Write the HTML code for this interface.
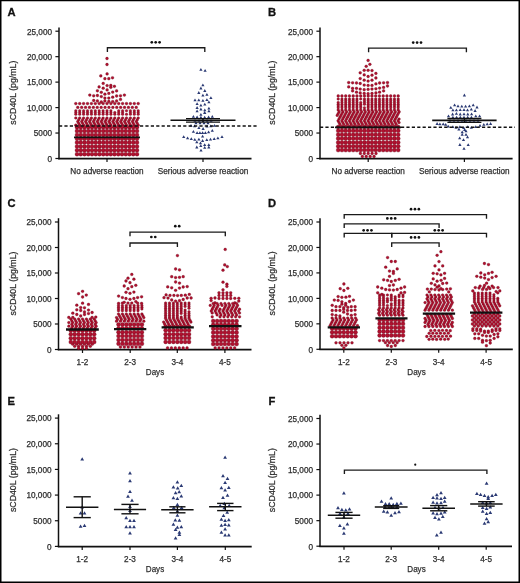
<!DOCTYPE html>
<html><head><meta charset="utf-8"><style>html,body{margin:0;padding:0;background:#fff;}svg{display:block;font-family:"Liberation Sans",sans-serif;will-change:transform;}</style></head>
<body><svg width="520" height="583" viewBox="0 0 520 583" font-family="Liberation Sans, sans-serif"><rect x="0" y="0" width="520" height="1.25" fill="#000"/><rect x="0" y="0" width="1.5" height="583" fill="#000"/><rect x="518.5" y="0" width="1.5" height="583" fill="#000"/><rect x="0" y="581.5" width="520" height="1.5" fill="#000"/>
<text x="7.5" y="15.8" font-size="11.2" font-weight="bold" fill="#111" stroke="#111" stroke-width="0.3">A</text>
<line x1="59" y1="27.4" x2="59" y2="159.2" stroke="#111" stroke-width="1.5"/>
<line x1="58.25" y1="158.65" x2="251.5" y2="158.65" stroke="#111" stroke-width="1.75"/>
<line x1="55.4" y1="158.5" x2="59" y2="158.5" stroke="#111" stroke-width="1.2"/>
<text x="52" y="161.8" text-anchor="end" font-size="8.2" fill="#2e2e2e" stroke="#2e2e2e" stroke-width="0.25">0</text>
<line x1="55.4" y1="133.04" x2="59" y2="133.04" stroke="#111" stroke-width="1.2"/>
<text x="52" y="136.34" text-anchor="end" font-size="8.2" fill="#2e2e2e" stroke="#2e2e2e" stroke-width="0.25">5000</text>
<line x1="55.4" y1="107.58" x2="59" y2="107.58" stroke="#111" stroke-width="1.2"/>
<text x="52" y="110.88" text-anchor="end" font-size="8.2" fill="#2e2e2e" stroke="#2e2e2e" stroke-width="0.25">10,000</text>
<line x1="55.4" y1="82.12" x2="59" y2="82.12" stroke="#111" stroke-width="1.2"/>
<text x="52" y="85.42" text-anchor="end" font-size="8.2" fill="#2e2e2e" stroke="#2e2e2e" stroke-width="0.25">15,000</text>
<line x1="55.4" y1="56.66" x2="59" y2="56.66" stroke="#111" stroke-width="1.2"/>
<text x="52" y="59.96" text-anchor="end" font-size="8.2" fill="#2e2e2e" stroke="#2e2e2e" stroke-width="0.25">20,000</text>
<line x1="55.4" y1="31.2" x2="59" y2="31.2" stroke="#111" stroke-width="1.2"/>
<text x="52" y="34.5" text-anchor="end" font-size="8.2" fill="#2e2e2e" stroke="#2e2e2e" stroke-width="0.25">25,000</text>
<line x1="107" y1="158.5" x2="107" y2="162" stroke="#111" stroke-width="1.2"/>
<line x1="203" y1="158.5" x2="203" y2="162" stroke="#111" stroke-width="1.2"/>
<text transform="translate(16.2,92.65) rotate(-90)" text-anchor="middle" font-size="9.5" textLength="64" lengthAdjust="spacingAndGlyphs" fill="#2e2e2e" stroke="#2e2e2e" stroke-width="0.25">sCD40L (pg/mL)</text>
<text x="107" y="174.3" text-anchor="middle" font-size="8.2" fill="#2e2e2e" stroke="#2e2e2e" stroke-width="0.25">No adverse reaction</text>
<text x="203" y="174.3" text-anchor="middle" font-size="8.2" fill="#2e2e2e" stroke="#2e2e2e" stroke-width="0.25">Serious adverse reaction</text>
<g fill="#b0112f" stroke="#600818" stroke-width="0.3"><circle cx="107" cy="58.5" r="1.4"/><circle cx="107" cy="64.5" r="1.4"/><circle cx="107.1" cy="73.9" r="1.4"/><circle cx="100.8" cy="75.9" r="1.4"/><circle cx="104.9" cy="78.7" r="1.4"/><circle cx="108.8" cy="78.7" r="1.4"/><circle cx="112.5" cy="77.8" r="1.4"/><circle cx="103.2" cy="83.4" r="1.4"/><circle cx="107.1" cy="85.6" r="1.4"/><circle cx="110.8" cy="85.4" r="1.4"/><circle cx="110.8" cy="87.3" r="1.4"/><circle cx="114.4" cy="86.3" r="1.4"/><circle cx="99.1" cy="86.9" r="1.4"/><circle cx="103.2" cy="88.2" r="1.4"/><circle cx="107.1" cy="89.9" r="1.4"/><circle cx="97.4" cy="90.8" r="1.4"/><circle cx="101.3" cy="92.3" r="1.4"/><circle cx="112.7" cy="92.1" r="1.4"/><circle cx="116.6" cy="90.9" r="1.4"/><circle cx="108.8" cy="93.4" r="1.4"/><circle cx="104.9" cy="94.2" r="1.4"/><circle cx="89.8" cy="95.1" r="1.4"/><circle cx="93.7" cy="95.8" r="1.4"/><circle cx="97.4" cy="95.5" r="1.4"/><circle cx="101.3" cy="96.6" r="1.4"/><circle cx="104.9" cy="98.1" r="1.4"/><circle cx="108.8" cy="98.1" r="1.4"/><circle cx="112.7" cy="97.2" r="1.4"/><circle cx="116.6" cy="96" r="1.4"/><circle cx="120.5" cy="95.8" r="1.4"/><circle cx="124.4" cy="95.1" r="1.4"/><circle cx="93.7" cy="100.5" r="1.4"/><circle cx="97.4" cy="101" r="1.4"/><circle cx="101.3" cy="102" r="1.4"/><circle cx="104.9" cy="101" r="1.4"/><circle cx="108.8" cy="101.5" r="1.4"/><circle cx="112.7" cy="101.6" r="1.4"/><circle cx="116.6" cy="101" r="1.4"/><circle cx="120.5" cy="99.4" r="1.4"/><circle cx="75.8" cy="103.6" r="1.4"/><circle cx="79.7" cy="103.6" r="1.4"/><circle cx="83.6" cy="103.6" r="1.4"/><circle cx="87.5" cy="103.6" r="1.4"/><circle cx="91.4" cy="103.6" r="1.4"/><circle cx="95.3" cy="103.6" r="1.4"/><circle cx="99.2" cy="103.6" r="1.4"/><circle cx="103.1" cy="103.6" r="1.4"/><circle cx="107" cy="103.6" r="1.4"/><circle cx="110.9" cy="103.6" r="1.4"/><circle cx="114.8" cy="103.6" r="1.4"/><circle cx="118.7" cy="103.6" r="1.4"/><circle cx="122.6" cy="103.6" r="1.4"/><circle cx="126.5" cy="103.6" r="1.4"/><circle cx="130.4" cy="103.6" r="1.4"/><circle cx="134.3" cy="103.6" r="1.4"/><circle cx="138.2" cy="103.6" r="1.4"/><circle cx="77.75" cy="107.4" r="1.4"/><circle cx="81.65" cy="107.4" r="1.4"/><circle cx="85.55" cy="107.4" r="1.4"/><circle cx="89.45" cy="107.4" r="1.4"/><circle cx="93.35" cy="107.4" r="1.4"/><circle cx="97.25" cy="107.4" r="1.4"/><circle cx="101.15" cy="107.4" r="1.4"/><circle cx="105.05" cy="107.4" r="1.4"/><circle cx="108.95" cy="107.4" r="1.4"/><circle cx="112.85" cy="107.4" r="1.4"/><circle cx="116.75" cy="107.4" r="1.4"/><circle cx="120.65" cy="107.4" r="1.4"/><circle cx="124.55" cy="107.4" r="1.4"/><circle cx="128.45" cy="107.4" r="1.4"/><circle cx="132.35" cy="107.4" r="1.4"/><circle cx="136.25" cy="107.4" r="1.4"/><circle cx="75.8" cy="110.8" r="1.3"/><circle cx="79.7" cy="110.8" r="1.3"/><circle cx="83.6" cy="110.8" r="1.3"/><circle cx="87.5" cy="110.8" r="1.3"/><circle cx="91.4" cy="110.8" r="1.3"/><circle cx="95.3" cy="110.8" r="1.3"/><circle cx="99.2" cy="110.8" r="1.3"/><circle cx="103.1" cy="110.8" r="1.3"/><circle cx="107" cy="110.8" r="1.3"/><circle cx="110.9" cy="110.8" r="1.3"/><circle cx="118.7" cy="110.8" r="1.3"/><circle cx="122.6" cy="110.8" r="1.3"/><circle cx="126.5" cy="110.8" r="1.3"/><circle cx="130.4" cy="110.8" r="1.3"/><circle cx="134.3" cy="110.8" r="1.3"/><circle cx="138.2" cy="110.8" r="1.3"/><circle cx="75.8" cy="112.55" r="1.3"/><circle cx="79.7" cy="112.55" r="1.3"/><circle cx="83.6" cy="112.55" r="1.3"/><circle cx="87.5" cy="112.55" r="1.3"/><circle cx="91.4" cy="112.55" r="1.3"/><circle cx="95.3" cy="112.55" r="1.3"/><circle cx="99.2" cy="112.55" r="1.3"/><circle cx="103.1" cy="112.55" r="1.3"/><circle cx="107" cy="112.55" r="1.3"/><circle cx="110.9" cy="112.55" r="1.3"/><circle cx="114.8" cy="112.55" r="1.3"/><circle cx="118.7" cy="112.55" r="1.3"/><circle cx="122.6" cy="112.55" r="1.3"/><circle cx="130.4" cy="112.55" r="1.3"/><circle cx="134.3" cy="112.55" r="1.3"/><circle cx="138.2" cy="112.55" r="1.3"/><circle cx="75.8" cy="114.3" r="1.3"/><circle cx="79.7" cy="114.3" r="1.3"/><circle cx="83.6" cy="114.3" r="1.3"/><circle cx="87.5" cy="114.3" r="1.3"/><circle cx="91.4" cy="114.3" r="1.3"/><circle cx="95.3" cy="114.3" r="1.3"/><circle cx="99.2" cy="114.3" r="1.3"/><circle cx="103.1" cy="114.3" r="1.3"/><circle cx="107" cy="114.3" r="1.3"/><circle cx="110.9" cy="114.3" r="1.3"/><circle cx="114.8" cy="114.3" r="1.3"/><circle cx="118.7" cy="114.3" r="1.3"/><circle cx="122.6" cy="114.3" r="1.3"/><circle cx="126.5" cy="114.3" r="1.3"/><circle cx="130.4" cy="114.3" r="1.3"/><circle cx="134.3" cy="114.3" r="1.3"/><circle cx="138.2" cy="114.3" r="1.3"/><circle cx="75.8" cy="118" r="1.35"/><circle cx="79.7" cy="118" r="1.35"/><circle cx="83.6" cy="118" r="1.35"/><circle cx="87.5" cy="118" r="1.35"/><circle cx="91.4" cy="118" r="1.35"/><circle cx="95.3" cy="118" r="1.35"/><circle cx="99.2" cy="118" r="1.35"/><circle cx="103.1" cy="118" r="1.35"/><circle cx="107" cy="118" r="1.35"/><circle cx="110.9" cy="118" r="1.35"/><circle cx="114.8" cy="118" r="1.35"/><circle cx="118.7" cy="118" r="1.35"/><circle cx="122.6" cy="118" r="1.35"/><circle cx="126.5" cy="118" r="1.35"/><circle cx="130.4" cy="118" r="1.35"/><circle cx="134.3" cy="118" r="1.35"/><circle cx="138.2" cy="118" r="1.35"/><circle cx="78.73" cy="119.8" r="1.35"/><circle cx="82.63" cy="119.8" r="1.35"/><circle cx="86.53" cy="119.8" r="1.35"/><circle cx="90.43" cy="119.8" r="1.35"/><circle cx="94.33" cy="119.8" r="1.35"/><circle cx="98.23" cy="119.8" r="1.35"/><circle cx="102.13" cy="119.8" r="1.35"/><circle cx="106.03" cy="119.8" r="1.35"/><circle cx="109.93" cy="119.8" r="1.35"/><circle cx="113.83" cy="119.8" r="1.35"/><circle cx="117.73" cy="119.8" r="1.35"/><circle cx="121.63" cy="119.8" r="1.35"/><circle cx="125.53" cy="119.8" r="1.35"/><circle cx="129.43" cy="119.8" r="1.35"/><circle cx="133.33" cy="119.8" r="1.35"/><circle cx="137.23" cy="119.8" r="1.35"/><circle cx="77.76" cy="121.6" r="1.35"/><circle cx="81.66" cy="121.6" r="1.35"/><circle cx="85.56" cy="121.6" r="1.35"/><circle cx="89.46" cy="121.6" r="1.35"/><circle cx="93.36" cy="121.6" r="1.35"/><circle cx="97.26" cy="121.6" r="1.35"/><circle cx="101.16" cy="121.6" r="1.35"/><circle cx="105.06" cy="121.6" r="1.35"/><circle cx="108.96" cy="121.6" r="1.35"/><circle cx="112.86" cy="121.6" r="1.35"/><circle cx="116.76" cy="121.6" r="1.35"/><circle cx="120.66" cy="121.6" r="1.35"/><circle cx="124.56" cy="121.6" r="1.35"/><circle cx="128.46" cy="121.6" r="1.35"/><circle cx="132.36" cy="121.6" r="1.35"/><circle cx="136.26" cy="121.6" r="1.35"/><circle cx="78.73" cy="123.4" r="1.35"/><circle cx="82.63" cy="123.4" r="1.35"/><circle cx="86.53" cy="123.4" r="1.35"/><circle cx="90.43" cy="123.4" r="1.35"/><circle cx="94.33" cy="123.4" r="1.35"/><circle cx="98.23" cy="123.4" r="1.35"/><circle cx="102.13" cy="123.4" r="1.35"/><circle cx="106.03" cy="123.4" r="1.35"/><circle cx="109.93" cy="123.4" r="1.35"/><circle cx="113.83" cy="123.4" r="1.35"/><circle cx="117.73" cy="123.4" r="1.35"/><circle cx="121.63" cy="123.4" r="1.35"/><circle cx="125.53" cy="123.4" r="1.35"/><circle cx="129.43" cy="123.4" r="1.35"/><circle cx="133.33" cy="123.4" r="1.35"/><circle cx="137.23" cy="123.4" r="1.35"/><circle cx="75.8" cy="125.2" r="1.35"/><circle cx="79.7" cy="125.2" r="1.35"/><circle cx="83.6" cy="125.2" r="1.35"/><circle cx="87.5" cy="125.2" r="1.35"/><circle cx="91.4" cy="125.2" r="1.35"/><circle cx="95.3" cy="125.2" r="1.35"/><circle cx="99.2" cy="125.2" r="1.35"/><circle cx="103.1" cy="125.2" r="1.35"/><circle cx="107" cy="125.2" r="1.35"/><circle cx="110.9" cy="125.2" r="1.35"/><circle cx="114.8" cy="125.2" r="1.35"/><circle cx="118.7" cy="125.2" r="1.35"/><circle cx="122.6" cy="125.2" r="1.35"/><circle cx="126.5" cy="125.2" r="1.35"/><circle cx="130.4" cy="125.2" r="1.35"/><circle cx="134.3" cy="125.2" r="1.35"/><circle cx="138.2" cy="125.2" r="1.35"/><circle cx="77" cy="127.2" r="2.0"/><circle cx="80.75" cy="127.2" r="2.0"/><circle cx="84.5" cy="127.2" r="2.0"/><circle cx="88.25" cy="127.2" r="2.0"/><circle cx="92" cy="127.2" r="2.0"/><circle cx="95.75" cy="127.2" r="2.0"/><circle cx="99.5" cy="127.2" r="2.0"/><circle cx="103.25" cy="127.2" r="2.0"/><circle cx="107" cy="127.2" r="2.0"/><circle cx="110.75" cy="127.2" r="2.0"/><circle cx="114.5" cy="127.2" r="2.0"/><circle cx="118.25" cy="127.2" r="2.0"/><circle cx="122" cy="127.2" r="2.0"/><circle cx="125.75" cy="127.2" r="2.0"/><circle cx="129.5" cy="127.2" r="2.0"/><circle cx="133.25" cy="127.2" r="2.0"/><circle cx="137" cy="127.2" r="2.0"/><circle cx="77" cy="131.05" r="2.0"/><circle cx="80.75" cy="131.05" r="2.0"/><circle cx="84.5" cy="131.05" r="2.0"/><circle cx="88.25" cy="131.05" r="2.0"/><circle cx="92" cy="131.05" r="2.0"/><circle cx="95.75" cy="131.05" r="2.0"/><circle cx="99.5" cy="131.05" r="2.0"/><circle cx="103.25" cy="131.05" r="2.0"/><circle cx="107" cy="131.05" r="2.0"/><circle cx="110.75" cy="131.05" r="2.0"/><circle cx="114.5" cy="131.05" r="2.0"/><circle cx="118.25" cy="131.05" r="2.0"/><circle cx="122" cy="131.05" r="2.0"/><circle cx="125.75" cy="131.05" r="2.0"/><circle cx="129.5" cy="131.05" r="2.0"/><circle cx="133.25" cy="131.05" r="2.0"/><circle cx="137" cy="131.05" r="2.0"/><circle cx="77" cy="134.9" r="2.0"/><circle cx="80.75" cy="134.9" r="2.0"/><circle cx="84.5" cy="134.9" r="2.0"/><circle cx="88.25" cy="134.9" r="2.0"/><circle cx="92" cy="134.9" r="2.0"/><circle cx="95.75" cy="134.9" r="2.0"/><circle cx="99.5" cy="134.9" r="2.0"/><circle cx="103.25" cy="134.9" r="2.0"/><circle cx="107" cy="134.9" r="2.0"/><circle cx="110.75" cy="134.9" r="2.0"/><circle cx="114.5" cy="134.9" r="2.0"/><circle cx="118.25" cy="134.9" r="2.0"/><circle cx="122" cy="134.9" r="2.0"/><circle cx="125.75" cy="134.9" r="2.0"/><circle cx="129.5" cy="134.9" r="2.0"/><circle cx="133.25" cy="134.9" r="2.0"/><circle cx="137" cy="134.9" r="2.0"/><circle cx="77" cy="138.75" r="2.0"/><circle cx="80.75" cy="138.75" r="2.0"/><circle cx="84.5" cy="138.75" r="2.0"/><circle cx="88.25" cy="138.75" r="2.0"/><circle cx="92" cy="138.75" r="2.0"/><circle cx="95.75" cy="138.75" r="2.0"/><circle cx="99.5" cy="138.75" r="2.0"/><circle cx="103.25" cy="138.75" r="2.0"/><circle cx="107" cy="138.75" r="2.0"/><circle cx="110.75" cy="138.75" r="2.0"/><circle cx="114.5" cy="138.75" r="2.0"/><circle cx="118.25" cy="138.75" r="2.0"/><circle cx="122" cy="138.75" r="2.0"/><circle cx="125.75" cy="138.75" r="2.0"/><circle cx="129.5" cy="138.75" r="2.0"/><circle cx="133.25" cy="138.75" r="2.0"/><circle cx="137" cy="138.75" r="2.0"/><circle cx="77" cy="142.6" r="2.0"/><circle cx="80.75" cy="142.6" r="2.0"/><circle cx="84.5" cy="142.6" r="2.0"/><circle cx="88.25" cy="142.6" r="2.0"/><circle cx="92" cy="142.6" r="2.0"/><circle cx="95.75" cy="142.6" r="2.0"/><circle cx="99.5" cy="142.6" r="2.0"/><circle cx="103.25" cy="142.6" r="2.0"/><circle cx="107" cy="142.6" r="2.0"/><circle cx="110.75" cy="142.6" r="2.0"/><circle cx="114.5" cy="142.6" r="2.0"/><circle cx="118.25" cy="142.6" r="2.0"/><circle cx="122" cy="142.6" r="2.0"/><circle cx="125.75" cy="142.6" r="2.0"/><circle cx="129.5" cy="142.6" r="2.0"/><circle cx="133.25" cy="142.6" r="2.0"/><circle cx="137" cy="142.6" r="2.0"/><circle cx="77" cy="146.45" r="2.0"/><circle cx="80.75" cy="146.45" r="2.0"/><circle cx="84.5" cy="146.45" r="2.0"/><circle cx="88.25" cy="146.45" r="2.0"/><circle cx="92" cy="146.45" r="2.0"/><circle cx="95.75" cy="146.45" r="2.0"/><circle cx="99.5" cy="146.45" r="2.0"/><circle cx="103.25" cy="146.45" r="2.0"/><circle cx="107" cy="146.45" r="2.0"/><circle cx="110.75" cy="146.45" r="2.0"/><circle cx="114.5" cy="146.45" r="2.0"/><circle cx="118.25" cy="146.45" r="2.0"/><circle cx="122" cy="146.45" r="2.0"/><circle cx="125.75" cy="146.45" r="2.0"/><circle cx="129.5" cy="146.45" r="2.0"/><circle cx="133.25" cy="146.45" r="2.0"/><circle cx="137" cy="146.45" r="2.0"/><circle cx="77" cy="150.3" r="2.0"/><circle cx="80.75" cy="150.3" r="2.0"/><circle cx="84.5" cy="150.3" r="2.0"/><circle cx="88.25" cy="150.3" r="2.0"/><circle cx="92" cy="150.3" r="2.0"/><circle cx="95.75" cy="150.3" r="2.0"/><circle cx="99.5" cy="150.3" r="2.0"/><circle cx="103.25" cy="150.3" r="2.0"/><circle cx="107" cy="150.3" r="2.0"/><circle cx="110.75" cy="150.3" r="2.0"/><circle cx="114.5" cy="150.3" r="2.0"/><circle cx="118.25" cy="150.3" r="2.0"/><circle cx="122" cy="150.3" r="2.0"/><circle cx="125.75" cy="150.3" r="2.0"/><circle cx="129.5" cy="150.3" r="2.0"/><circle cx="133.25" cy="150.3" r="2.0"/><circle cx="137" cy="150.3" r="2.0"/><circle cx="77" cy="154.15" r="2.0"/><circle cx="80.75" cy="154.15" r="2.0"/><circle cx="84.5" cy="154.15" r="2.0"/><circle cx="88.25" cy="154.15" r="2.0"/><circle cx="92" cy="154.15" r="2.0"/><circle cx="95.75" cy="154.15" r="2.0"/><circle cx="99.5" cy="154.15" r="2.0"/><circle cx="103.25" cy="154.15" r="2.0"/><circle cx="107" cy="154.15" r="2.0"/><circle cx="110.75" cy="154.15" r="2.0"/><circle cx="114.5" cy="154.15" r="2.0"/><circle cx="118.25" cy="154.15" r="2.0"/><circle cx="122" cy="154.15" r="2.0"/><circle cx="125.75" cy="154.15" r="2.0"/><circle cx="129.5" cy="154.15" r="2.0"/><circle cx="133.25" cy="154.15" r="2.0"/><circle cx="137" cy="154.15" r="2.0"/></g>
<line x1="74" y1="137.3" x2="140" y2="137.3" stroke="#111" stroke-width="1.7"/>
<path fill="#2b3a74" d="M199.28 70.68L200.9 67.91L202.52 70.68ZM203.48 71.68L205.1 68.91L206.72 71.68ZM201.28 86.28L202.9 83.51L204.52 86.28ZM199.28 89.38L200.9 86.61L202.52 89.38ZM203.19 91.88L204.8 89.11L206.42 91.88ZM197.19 93.88L198.8 91.11L200.42 93.88ZM201.28 96.53L202.9 93.76L204.52 96.53ZM205.28 95.78L206.9 93.01L208.52 95.78ZM209.28 99.03L210.9 96.26L212.52 99.03ZM193.38 101.18L195 98.41L196.62 101.18ZM197.19 101.18L198.8 98.41L200.42 101.18ZM201.28 101.68L202.9 98.91L204.52 101.68ZM205.28 100.98L206.9 98.21L208.52 100.98ZM207.28 103.18L208.9 100.41L210.52 103.18ZM195.48 104.98L197.1 102.21L198.72 104.98ZM199.28 106.53L200.9 103.76L202.52 106.53ZM203.19 105.48L204.8 102.71L206.42 105.48ZM195.48 108.88L197.1 106.11L198.72 108.88ZM199.28 110.38L200.9 107.61L202.52 110.38ZM203.19 111.28L204.8 108.51L206.42 111.28ZM207.28 109.48L208.9 106.71L210.52 109.48ZM195.48 112.18L197.1 109.41L198.72 112.18ZM203.19 113.98L204.8 111.21L206.42 113.98ZM207.28 112.18L208.9 109.41L210.52 112.18ZM199.28 115.68L200.9 112.91L202.52 115.68ZM203.08 113.78L204.7 111.01L206.31 113.78ZM191.78 117.68L193.4 114.91L195.02 117.68ZM195.48 118.28L197.1 115.51L198.72 118.28ZM199.28 118.58L200.9 115.81L202.52 118.58ZM203.08 118.58L204.7 115.81L206.31 118.58ZM206.98 118.28L208.6 115.51L210.22 118.28ZM210.69 117.68L212.3 114.91L213.92 117.68ZM193.38 121.78L195 119.01L196.62 121.78ZM197.38 121.78L199 119.01L200.62 121.78ZM201.38 121.78L203 119.01L204.62 121.78ZM205.38 121.78L207 119.01L208.62 121.78ZM209.38 121.78L211 119.01L212.62 121.78ZM194.38 124.28L196 121.51L197.62 124.28ZM198.38 124.28L200 121.51L201.62 124.28ZM202.38 124.28L204 121.51L205.62 124.28ZM206.38 124.28L208 121.51L209.62 124.28ZM189.38 126.78L191 124.01L192.62 126.78ZM192.88 127.28L194.5 124.51L196.12 127.28ZM197.28 128.97L198.9 126.21L200.52 128.97ZM201.48 129.88L203.1 127.11L204.72 129.88ZM205.38 127.58L207 124.81L208.62 127.58ZM209.19 127.28L210.8 124.51L212.42 127.28ZM212.98 126.78L214.6 124.01L216.22 126.78ZM191.78 132.68L193.4 129.91L195.02 132.68ZM195.48 134.08L197.1 131.31L198.72 134.08ZM198.28 134.08L199.9 131.31L201.52 134.08ZM200.98 134.08L202.6 131.31L204.22 134.08ZM203.78 134.08L205.4 131.31L207.02 134.08ZM206.98 133.18L208.6 130.41L210.22 133.18ZM210.69 131.78L212.3 129.01L213.92 131.78ZM200.98 137.47L202.6 134.71L204.22 137.47ZM182.08 137.97L183.7 135.21L185.31 137.97ZM185.98 139.18L187.6 136.41L189.22 139.18ZM189.69 140.08L191.3 137.31L192.92 140.08ZM193.19 140.78L194.8 138.01L196.42 140.78ZM197.28 140.47L198.9 137.71L200.52 140.47ZM200.98 141.88L202.6 139.11L204.22 141.88ZM205.19 140.97L206.8 138.21L208.42 140.97ZM208.88 140.47L210.5 137.71L212.12 140.47ZM212.58 140.08L214.2 137.31L215.81 140.08ZM216.28 139.18L217.9 136.41L219.52 139.18ZM220.38 137.97L222 135.21L223.62 137.97ZM195.19 143.28L196.8 140.51L198.42 143.28ZM198.88 144.18L200.5 141.41L202.12 144.18ZM195.19 148.38L196.8 145.61L198.42 148.38ZM199.19 146.97L200.8 144.21L202.42 146.97ZM203.08 146.08L204.7 143.31L206.31 146.08ZM203.08 148.78L204.7 146.01L206.31 148.78ZM207.19 146.08L208.8 143.31L210.42 146.08ZM207.19 148.38L208.8 145.61L210.42 148.38ZM199.38 151.58L201 148.81L202.62 151.58Z"/>
<g stroke="#111" stroke-width="1.4" fill="none"><line x1="170.5" y1="120.3" x2="235.5" y2="120.3" stroke-width="1.6"/><line x1="186" y1="118.6" x2="220" y2="118.6"/><line x1="186" y1="122.1" x2="220" y2="122.1"/><line x1="203" y1="118.6" x2="203" y2="122.1"/></g>
<line x1="59" y1="126" x2="257" y2="126" stroke="#111" stroke-width="1.45" stroke-dasharray="3.2 2.2"/>
<path d="M107.4 51.9V47.75H204.8V51.9" fill="none" stroke="#1a1a1a" stroke-width="1.35"/>
<circle cx="151.8" cy="42.3" r="1.35" fill="#111"/>
<circle cx="155.7" cy="42.3" r="1.35" fill="#111"/>
<circle cx="159.6" cy="42.3" r="1.35" fill="#111"/>
<text x="268" y="15.8" font-size="11.2" font-weight="bold" fill="#111" stroke="#111" stroke-width="0.3">B</text>
<line x1="320" y1="27.4" x2="320" y2="159.2" stroke="#111" stroke-width="1.5"/>
<line x1="319.25" y1="158.65" x2="512.6" y2="158.65" stroke="#111" stroke-width="1.75"/>
<line x1="316.4" y1="158.5" x2="320" y2="158.5" stroke="#111" stroke-width="1.2"/>
<text x="313" y="161.8" text-anchor="end" font-size="8.2" fill="#2e2e2e" stroke="#2e2e2e" stroke-width="0.25">0</text>
<line x1="316.4" y1="133.04" x2="320" y2="133.04" stroke="#111" stroke-width="1.2"/>
<text x="313" y="136.34" text-anchor="end" font-size="8.2" fill="#2e2e2e" stroke="#2e2e2e" stroke-width="0.25">5000</text>
<line x1="316.4" y1="107.58" x2="320" y2="107.58" stroke="#111" stroke-width="1.2"/>
<text x="313" y="110.88" text-anchor="end" font-size="8.2" fill="#2e2e2e" stroke="#2e2e2e" stroke-width="0.25">10,000</text>
<line x1="316.4" y1="82.12" x2="320" y2="82.12" stroke="#111" stroke-width="1.2"/>
<text x="313" y="85.42" text-anchor="end" font-size="8.2" fill="#2e2e2e" stroke="#2e2e2e" stroke-width="0.25">15,000</text>
<line x1="316.4" y1="56.66" x2="320" y2="56.66" stroke="#111" stroke-width="1.2"/>
<text x="313" y="59.96" text-anchor="end" font-size="8.2" fill="#2e2e2e" stroke="#2e2e2e" stroke-width="0.25">20,000</text>
<line x1="316.4" y1="31.2" x2="320" y2="31.2" stroke="#111" stroke-width="1.2"/>
<text x="313" y="34.5" text-anchor="end" font-size="8.2" fill="#2e2e2e" stroke="#2e2e2e" stroke-width="0.25">25,000</text>
<line x1="368.2" y1="158.5" x2="368.2" y2="162" stroke="#111" stroke-width="1.2"/>
<line x1="464.4" y1="158.5" x2="464.4" y2="162" stroke="#111" stroke-width="1.2"/>
<text transform="translate(275.4,92.65) rotate(-90)" text-anchor="middle" font-size="9.5" textLength="64" lengthAdjust="spacingAndGlyphs" fill="#2e2e2e" stroke="#2e2e2e" stroke-width="0.25">sCD40L (pg/mL)</text>
<text x="368.2" y="174.3" text-anchor="middle" font-size="8.2" fill="#2e2e2e" stroke="#2e2e2e" stroke-width="0.25">No adverse reaction</text>
<text x="464.4" y="174.3" text-anchor="middle" font-size="8.2" fill="#2e2e2e" stroke="#2e2e2e" stroke-width="0.25">Serious adverse reaction</text>
<g fill="#b0112f" stroke="#600818" stroke-width="0.3"><circle cx="368.1" cy="60.4" r="1.4"/><circle cx="369.9" cy="64.3" r="1.4"/><circle cx="366.2" cy="66.3" r="1.4"/><circle cx="364.2" cy="70.3" r="1.4"/><circle cx="368.1" cy="70.3" r="1.4"/><circle cx="372" cy="70.6" r="1.4"/><circle cx="360.2" cy="72.8" r="1.4"/><circle cx="375.9" cy="73.4" r="1.4"/><circle cx="364.2" cy="74.9" r="1.4"/><circle cx="368.1" cy="76.5" r="1.4"/><circle cx="372" cy="75.2" r="1.4"/><circle cx="360.2" cy="78.6" r="1.4"/><circle cx="375.9" cy="78" r="1.4"/><circle cx="364.2" cy="80.2" r="1.4"/><circle cx="368.1" cy="81.1" r="1.4"/><circle cx="372" cy="80.2" r="1.4"/><circle cx="348.7" cy="82.6" r="1.4"/><circle cx="352.6" cy="82.8" r="1.4"/><circle cx="356.5" cy="83" r="1.4"/><circle cx="360.2" cy="83.5" r="1.4"/><circle cx="364.2" cy="85.1" r="1.4"/><circle cx="368.1" cy="85.4" r="1.4"/><circle cx="372" cy="85.4" r="1.4"/><circle cx="375.9" cy="83.9" r="1.4"/><circle cx="379.6" cy="83" r="1.4"/><circle cx="383.6" cy="82.8" r="1.4"/><circle cx="387.5" cy="82.6" r="1.4"/><circle cx="348.7" cy="86.9" r="1.4"/><circle cx="387.5" cy="86" r="1.4"/><circle cx="352.6" cy="88.3" r="1.4"/><circle cx="356.5" cy="88.3" r="1.4"/><circle cx="360.2" cy="89.1" r="1.4"/><circle cx="364.2" cy="89.7" r="1.4"/><circle cx="368.1" cy="89.4" r="1.4"/><circle cx="372" cy="89.1" r="1.4"/><circle cx="375.9" cy="88.8" r="1.4"/><circle cx="379.6" cy="88.1" r="1.4"/><circle cx="383.6" cy="87.4" r="1.4"/><circle cx="352.6" cy="90.9" r="1.4"/><circle cx="383.6" cy="90.9" r="1.4"/><circle cx="356.5" cy="92.2" r="1.4"/><circle cx="360.2" cy="92.9" r="1.4"/><circle cx="364.2" cy="93.4" r="1.4"/><circle cx="368.1" cy="93.7" r="1.4"/><circle cx="372" cy="93.4" r="1.4"/><circle cx="375.9" cy="92.9" r="1.4"/><circle cx="379.6" cy="92.2" r="1.4"/><circle cx="338.2" cy="96" r="1.4"/><circle cx="341.95" cy="96" r="1.4"/><circle cx="345.7" cy="96" r="1.4"/><circle cx="349.45" cy="96" r="1.4"/><circle cx="353.2" cy="96" r="1.4"/><circle cx="356.95" cy="96" r="1.4"/><circle cx="360.7" cy="96" r="1.4"/><circle cx="364.45" cy="96" r="1.4"/><circle cx="368.2" cy="96" r="1.4"/><circle cx="371.95" cy="96" r="1.4"/><circle cx="375.7" cy="96" r="1.4"/><circle cx="379.45" cy="96" r="1.4"/><circle cx="383.2" cy="96" r="1.4"/><circle cx="386.95" cy="96" r="1.4"/><circle cx="390.7" cy="96" r="1.4"/><circle cx="394.45" cy="96" r="1.4"/><circle cx="398.2" cy="96" r="1.4"/><circle cx="338.2" cy="99" r="1.3"/><circle cx="341.95" cy="99" r="1.3"/><circle cx="345.7" cy="99" r="1.3"/><circle cx="349.45" cy="99" r="1.3"/><circle cx="353.2" cy="99" r="1.3"/><circle cx="356.95" cy="99" r="1.3"/><circle cx="360.7" cy="99" r="1.3"/><circle cx="364.45" cy="99" r="1.3"/><circle cx="368.2" cy="99" r="1.3"/><circle cx="371.95" cy="99" r="1.3"/><circle cx="375.7" cy="99" r="1.3"/><circle cx="379.45" cy="99" r="1.3"/><circle cx="383.2" cy="99" r="1.3"/><circle cx="386.95" cy="99" r="1.3"/><circle cx="390.7" cy="99" r="1.3"/><circle cx="394.45" cy="99" r="1.3"/><circle cx="398.2" cy="99" r="1.3"/><circle cx="341.95" cy="100.75" r="1.3"/><circle cx="345.7" cy="100.75" r="1.3"/><circle cx="349.45" cy="100.75" r="1.3"/><circle cx="353.2" cy="100.75" r="1.3"/><circle cx="356.95" cy="100.75" r="1.3"/><circle cx="364.45" cy="100.75" r="1.3"/><circle cx="368.2" cy="100.75" r="1.3"/><circle cx="371.95" cy="100.75" r="1.3"/><circle cx="375.7" cy="100.75" r="1.3"/><circle cx="379.45" cy="100.75" r="1.3"/><circle cx="383.2" cy="100.75" r="1.3"/><circle cx="386.95" cy="100.75" r="1.3"/><circle cx="390.7" cy="100.75" r="1.3"/><circle cx="394.45" cy="100.75" r="1.3"/><circle cx="398.2" cy="100.75" r="1.3"/><circle cx="338.2" cy="102.5" r="1.3"/><circle cx="341.95" cy="102.5" r="1.3"/><circle cx="345.7" cy="102.5" r="1.3"/><circle cx="349.45" cy="102.5" r="1.3"/><circle cx="353.2" cy="102.5" r="1.3"/><circle cx="356.95" cy="102.5" r="1.3"/><circle cx="360.7" cy="102.5" r="1.3"/><circle cx="364.45" cy="102.5" r="1.3"/><circle cx="368.2" cy="102.5" r="1.3"/><circle cx="371.95" cy="102.5" r="1.3"/><circle cx="375.7" cy="102.5" r="1.3"/><circle cx="379.45" cy="102.5" r="1.3"/><circle cx="383.2" cy="102.5" r="1.3"/><circle cx="386.95" cy="102.5" r="1.3"/><circle cx="390.7" cy="102.5" r="1.3"/><circle cx="394.45" cy="102.5" r="1.3"/><circle cx="398.2" cy="102.5" r="1.3"/><circle cx="338.2" cy="104.25" r="1.3"/><circle cx="341.95" cy="104.25" r="1.3"/><circle cx="345.7" cy="104.25" r="1.3"/><circle cx="349.45" cy="104.25" r="1.3"/><circle cx="353.2" cy="104.25" r="1.3"/><circle cx="356.95" cy="104.25" r="1.3"/><circle cx="360.7" cy="104.25" r="1.3"/><circle cx="364.45" cy="104.25" r="1.3"/><circle cx="368.2" cy="104.25" r="1.3"/><circle cx="371.95" cy="104.25" r="1.3"/><circle cx="375.7" cy="104.25" r="1.3"/><circle cx="379.45" cy="104.25" r="1.3"/><circle cx="383.2" cy="104.25" r="1.3"/><circle cx="386.95" cy="104.25" r="1.3"/><circle cx="390.7" cy="104.25" r="1.3"/><circle cx="394.45" cy="104.25" r="1.3"/><circle cx="398.2" cy="104.25" r="1.3"/><circle cx="338.2" cy="106" r="1.3"/><circle cx="341.95" cy="106" r="1.3"/><circle cx="345.7" cy="106" r="1.3"/><circle cx="349.45" cy="106" r="1.3"/><circle cx="353.2" cy="106" r="1.3"/><circle cx="356.95" cy="106" r="1.3"/><circle cx="360.7" cy="106" r="1.3"/><circle cx="368.2" cy="106" r="1.3"/><circle cx="371.95" cy="106" r="1.3"/><circle cx="375.7" cy="106" r="1.3"/><circle cx="379.45" cy="106" r="1.3"/><circle cx="383.2" cy="106" r="1.3"/><circle cx="386.95" cy="106" r="1.3"/><circle cx="390.7" cy="106" r="1.3"/><circle cx="394.45" cy="106" r="1.3"/><circle cx="398.2" cy="106" r="1.3"/><circle cx="338.2" cy="107.75" r="1.3"/><circle cx="341.95" cy="107.75" r="1.3"/><circle cx="345.7" cy="107.75" r="1.3"/><circle cx="349.45" cy="107.75" r="1.3"/><circle cx="353.2" cy="107.75" r="1.3"/><circle cx="356.95" cy="107.75" r="1.3"/><circle cx="360.7" cy="107.75" r="1.3"/><circle cx="364.45" cy="107.75" r="1.3"/><circle cx="368.2" cy="107.75" r="1.3"/><circle cx="371.95" cy="107.75" r="1.3"/><circle cx="375.7" cy="107.75" r="1.3"/><circle cx="379.45" cy="107.75" r="1.3"/><circle cx="383.2" cy="107.75" r="1.3"/><circle cx="386.95" cy="107.75" r="1.3"/><circle cx="390.7" cy="107.75" r="1.3"/><circle cx="394.45" cy="107.75" r="1.3"/><circle cx="398.2" cy="107.75" r="1.3"/><circle cx="338.2" cy="110" r="1.35"/><circle cx="341.95" cy="110" r="1.35"/><circle cx="345.7" cy="110" r="1.35"/><circle cx="349.45" cy="110" r="1.35"/><circle cx="353.2" cy="110" r="1.35"/><circle cx="356.95" cy="110" r="1.35"/><circle cx="360.7" cy="110" r="1.35"/><circle cx="364.45" cy="110" r="1.35"/><circle cx="368.2" cy="110" r="1.35"/><circle cx="371.95" cy="110" r="1.35"/><circle cx="375.7" cy="110" r="1.35"/><circle cx="379.45" cy="110" r="1.35"/><circle cx="383.2" cy="110" r="1.35"/><circle cx="386.95" cy="110" r="1.35"/><circle cx="390.7" cy="110" r="1.35"/><circle cx="394.45" cy="110" r="1.35"/><circle cx="398.2" cy="110" r="1.35"/><circle cx="339.17" cy="111.8" r="1.35"/><circle cx="342.92" cy="111.8" r="1.35"/><circle cx="346.67" cy="111.8" r="1.35"/><circle cx="350.42" cy="111.8" r="1.35"/><circle cx="354.17" cy="111.8" r="1.35"/><circle cx="357.92" cy="111.8" r="1.35"/><circle cx="361.67" cy="111.8" r="1.35"/><circle cx="365.42" cy="111.8" r="1.35"/><circle cx="369.17" cy="111.8" r="1.35"/><circle cx="372.92" cy="111.8" r="1.35"/><circle cx="376.67" cy="111.8" r="1.35"/><circle cx="380.42" cy="111.8" r="1.35"/><circle cx="384.17" cy="111.8" r="1.35"/><circle cx="387.92" cy="111.8" r="1.35"/><circle cx="391.67" cy="111.8" r="1.35"/><circle cx="395.42" cy="111.8" r="1.35"/><circle cx="399.17" cy="111.8" r="1.35"/><circle cx="338.2" cy="113.6" r="1.35"/><circle cx="341.95" cy="113.6" r="1.35"/><circle cx="345.7" cy="113.6" r="1.35"/><circle cx="349.45" cy="113.6" r="1.35"/><circle cx="353.2" cy="113.6" r="1.35"/><circle cx="356.95" cy="113.6" r="1.35"/><circle cx="360.7" cy="113.6" r="1.35"/><circle cx="364.45" cy="113.6" r="1.35"/><circle cx="368.2" cy="113.6" r="1.35"/><circle cx="371.95" cy="113.6" r="1.35"/><circle cx="375.7" cy="113.6" r="1.35"/><circle cx="379.45" cy="113.6" r="1.35"/><circle cx="383.2" cy="113.6" r="1.35"/><circle cx="386.95" cy="113.6" r="1.35"/><circle cx="390.7" cy="113.6" r="1.35"/><circle cx="394.45" cy="113.6" r="1.35"/><circle cx="398.2" cy="113.6" r="1.35"/><circle cx="337.23" cy="115.4" r="1.35"/><circle cx="340.98" cy="115.4" r="1.35"/><circle cx="344.73" cy="115.4" r="1.35"/><circle cx="348.48" cy="115.4" r="1.35"/><circle cx="352.23" cy="115.4" r="1.35"/><circle cx="355.98" cy="115.4" r="1.35"/><circle cx="359.73" cy="115.4" r="1.35"/><circle cx="363.48" cy="115.4" r="1.35"/><circle cx="367.23" cy="115.4" r="1.35"/><circle cx="370.98" cy="115.4" r="1.35"/><circle cx="374.73" cy="115.4" r="1.35"/><circle cx="378.48" cy="115.4" r="1.35"/><circle cx="382.23" cy="115.4" r="1.35"/><circle cx="385.98" cy="115.4" r="1.35"/><circle cx="389.73" cy="115.4" r="1.35"/><circle cx="393.48" cy="115.4" r="1.35"/><circle cx="397.23" cy="115.4" r="1.35"/><circle cx="340.01" cy="117.2" r="1.35"/><circle cx="343.76" cy="117.2" r="1.35"/><circle cx="347.51" cy="117.2" r="1.35"/><circle cx="351.26" cy="117.2" r="1.35"/><circle cx="355.01" cy="117.2" r="1.35"/><circle cx="358.76" cy="117.2" r="1.35"/><circle cx="362.51" cy="117.2" r="1.35"/><circle cx="366.26" cy="117.2" r="1.35"/><circle cx="370.01" cy="117.2" r="1.35"/><circle cx="373.76" cy="117.2" r="1.35"/><circle cx="377.51" cy="117.2" r="1.35"/><circle cx="381.26" cy="117.2" r="1.35"/><circle cx="385.01" cy="117.2" r="1.35"/><circle cx="388.76" cy="117.2" r="1.35"/><circle cx="392.51" cy="117.2" r="1.35"/><circle cx="396.26" cy="117.2" r="1.35"/><circle cx="339.04" cy="119" r="1.35"/><circle cx="342.79" cy="119" r="1.35"/><circle cx="346.54" cy="119" r="1.35"/><circle cx="350.29" cy="119" r="1.35"/><circle cx="354.04" cy="119" r="1.35"/><circle cx="357.79" cy="119" r="1.35"/><circle cx="361.54" cy="119" r="1.35"/><circle cx="365.29" cy="119" r="1.35"/><circle cx="369.04" cy="119" r="1.35"/><circle cx="372.79" cy="119" r="1.35"/><circle cx="376.54" cy="119" r="1.35"/><circle cx="380.29" cy="119" r="1.35"/><circle cx="384.04" cy="119" r="1.35"/><circle cx="387.79" cy="119" r="1.35"/><circle cx="391.54" cy="119" r="1.35"/><circle cx="395.29" cy="119" r="1.35"/><circle cx="399.04" cy="119" r="1.35"/><circle cx="338.07" cy="120.8" r="1.35"/><circle cx="341.82" cy="120.8" r="1.35"/><circle cx="345.57" cy="120.8" r="1.35"/><circle cx="349.32" cy="120.8" r="1.35"/><circle cx="353.07" cy="120.8" r="1.35"/><circle cx="356.82" cy="120.8" r="1.35"/><circle cx="360.57" cy="120.8" r="1.35"/><circle cx="364.32" cy="120.8" r="1.35"/><circle cx="368.07" cy="120.8" r="1.35"/><circle cx="371.82" cy="120.8" r="1.35"/><circle cx="375.57" cy="120.8" r="1.35"/><circle cx="379.32" cy="120.8" r="1.35"/><circle cx="383.07" cy="120.8" r="1.35"/><circle cx="386.82" cy="120.8" r="1.35"/><circle cx="390.57" cy="120.8" r="1.35"/><circle cx="394.32" cy="120.8" r="1.35"/><circle cx="398.07" cy="120.8" r="1.35"/><circle cx="339.04" cy="122.6" r="1.35"/><circle cx="342.79" cy="122.6" r="1.35"/><circle cx="346.54" cy="122.6" r="1.35"/><circle cx="350.29" cy="122.6" r="1.35"/><circle cx="354.04" cy="122.6" r="1.35"/><circle cx="357.79" cy="122.6" r="1.35"/><circle cx="361.54" cy="122.6" r="1.35"/><circle cx="365.29" cy="122.6" r="1.35"/><circle cx="369.04" cy="122.6" r="1.35"/><circle cx="372.79" cy="122.6" r="1.35"/><circle cx="376.54" cy="122.6" r="1.35"/><circle cx="380.29" cy="122.6" r="1.35"/><circle cx="384.04" cy="122.6" r="1.35"/><circle cx="387.79" cy="122.6" r="1.35"/><circle cx="391.54" cy="122.6" r="1.35"/><circle cx="395.29" cy="122.6" r="1.35"/><circle cx="399.04" cy="122.6" r="1.35"/><circle cx="340.01" cy="124.4" r="1.35"/><circle cx="343.76" cy="124.4" r="1.35"/><circle cx="347.51" cy="124.4" r="1.35"/><circle cx="351.26" cy="124.4" r="1.35"/><circle cx="355.01" cy="124.4" r="1.35"/><circle cx="358.76" cy="124.4" r="1.35"/><circle cx="362.51" cy="124.4" r="1.35"/><circle cx="366.26" cy="124.4" r="1.35"/><circle cx="370.01" cy="124.4" r="1.35"/><circle cx="373.76" cy="124.4" r="1.35"/><circle cx="377.51" cy="124.4" r="1.35"/><circle cx="381.26" cy="124.4" r="1.35"/><circle cx="385.01" cy="124.4" r="1.35"/><circle cx="388.76" cy="124.4" r="1.35"/><circle cx="392.51" cy="124.4" r="1.35"/><circle cx="396.26" cy="124.4" r="1.35"/><circle cx="338.2" cy="127" r="2.0"/><circle cx="341.95" cy="127" r="2.0"/><circle cx="345.7" cy="127" r="2.0"/><circle cx="349.45" cy="127" r="2.0"/><circle cx="353.2" cy="127" r="2.0"/><circle cx="356.95" cy="127" r="2.0"/><circle cx="360.7" cy="127" r="2.0"/><circle cx="364.45" cy="127" r="2.0"/><circle cx="368.2" cy="127" r="2.0"/><circle cx="371.95" cy="127" r="2.0"/><circle cx="375.7" cy="127" r="2.0"/><circle cx="379.45" cy="127" r="2.0"/><circle cx="383.2" cy="127" r="2.0"/><circle cx="386.95" cy="127" r="2.0"/><circle cx="390.7" cy="127" r="2.0"/><circle cx="394.45" cy="127" r="2.0"/><circle cx="398.2" cy="127" r="2.0"/><circle cx="338.2" cy="130.85" r="2.0"/><circle cx="341.95" cy="130.85" r="2.0"/><circle cx="345.7" cy="130.85" r="2.0"/><circle cx="349.45" cy="130.85" r="2.0"/><circle cx="353.2" cy="130.85" r="2.0"/><circle cx="356.95" cy="130.85" r="2.0"/><circle cx="360.7" cy="130.85" r="2.0"/><circle cx="364.45" cy="130.85" r="2.0"/><circle cx="368.2" cy="130.85" r="2.0"/><circle cx="371.95" cy="130.85" r="2.0"/><circle cx="375.7" cy="130.85" r="2.0"/><circle cx="379.45" cy="130.85" r="2.0"/><circle cx="383.2" cy="130.85" r="2.0"/><circle cx="386.95" cy="130.85" r="2.0"/><circle cx="390.7" cy="130.85" r="2.0"/><circle cx="394.45" cy="130.85" r="2.0"/><circle cx="398.2" cy="130.85" r="2.0"/><circle cx="338.2" cy="134.7" r="2.0"/><circle cx="341.95" cy="134.7" r="2.0"/><circle cx="345.7" cy="134.7" r="2.0"/><circle cx="349.45" cy="134.7" r="2.0"/><circle cx="353.2" cy="134.7" r="2.0"/><circle cx="356.95" cy="134.7" r="2.0"/><circle cx="360.7" cy="134.7" r="2.0"/><circle cx="364.45" cy="134.7" r="2.0"/><circle cx="368.2" cy="134.7" r="2.0"/><circle cx="371.95" cy="134.7" r="2.0"/><circle cx="375.7" cy="134.7" r="2.0"/><circle cx="379.45" cy="134.7" r="2.0"/><circle cx="383.2" cy="134.7" r="2.0"/><circle cx="386.95" cy="134.7" r="2.0"/><circle cx="390.7" cy="134.7" r="2.0"/><circle cx="394.45" cy="134.7" r="2.0"/><circle cx="398.2" cy="134.7" r="2.0"/><circle cx="338.2" cy="138.55" r="2.0"/><circle cx="341.95" cy="138.55" r="2.0"/><circle cx="345.7" cy="138.55" r="2.0"/><circle cx="349.45" cy="138.55" r="2.0"/><circle cx="353.2" cy="138.55" r="2.0"/><circle cx="356.95" cy="138.55" r="2.0"/><circle cx="360.7" cy="138.55" r="2.0"/><circle cx="364.45" cy="138.55" r="2.0"/><circle cx="368.2" cy="138.55" r="2.0"/><circle cx="371.95" cy="138.55" r="2.0"/><circle cx="375.7" cy="138.55" r="2.0"/><circle cx="379.45" cy="138.55" r="2.0"/><circle cx="383.2" cy="138.55" r="2.0"/><circle cx="386.95" cy="138.55" r="2.0"/><circle cx="390.7" cy="138.55" r="2.0"/><circle cx="394.45" cy="138.55" r="2.0"/><circle cx="398.2" cy="138.55" r="2.0"/><circle cx="338.2" cy="142.4" r="2.0"/><circle cx="341.95" cy="142.4" r="2.0"/><circle cx="345.7" cy="142.4" r="2.0"/><circle cx="349.45" cy="142.4" r="2.0"/><circle cx="353.2" cy="142.4" r="2.0"/><circle cx="356.95" cy="142.4" r="2.0"/><circle cx="360.7" cy="142.4" r="2.0"/><circle cx="364.45" cy="142.4" r="2.0"/><circle cx="368.2" cy="142.4" r="2.0"/><circle cx="371.95" cy="142.4" r="2.0"/><circle cx="375.7" cy="142.4" r="2.0"/><circle cx="379.45" cy="142.4" r="2.0"/><circle cx="383.2" cy="142.4" r="2.0"/><circle cx="386.95" cy="142.4" r="2.0"/><circle cx="390.7" cy="142.4" r="2.0"/><circle cx="394.45" cy="142.4" r="2.0"/><circle cx="398.2" cy="142.4" r="2.0"/><circle cx="338.2" cy="146.25" r="2.0"/><circle cx="341.95" cy="146.25" r="2.0"/><circle cx="345.7" cy="146.25" r="2.0"/><circle cx="349.45" cy="146.25" r="2.0"/><circle cx="353.2" cy="146.25" r="2.0"/><circle cx="356.95" cy="146.25" r="2.0"/><circle cx="360.7" cy="146.25" r="2.0"/><circle cx="364.45" cy="146.25" r="2.0"/><circle cx="368.2" cy="146.25" r="2.0"/><circle cx="371.95" cy="146.25" r="2.0"/><circle cx="375.7" cy="146.25" r="2.0"/><circle cx="379.45" cy="146.25" r="2.0"/><circle cx="383.2" cy="146.25" r="2.0"/><circle cx="386.95" cy="146.25" r="2.0"/><circle cx="390.7" cy="146.25" r="2.0"/><circle cx="394.45" cy="146.25" r="2.0"/><circle cx="398.2" cy="146.25" r="2.0"/><circle cx="338.2" cy="150.1" r="2.0"/><circle cx="341.95" cy="150.1" r="2.0"/><circle cx="345.7" cy="150.1" r="2.0"/><circle cx="349.45" cy="150.1" r="2.0"/><circle cx="353.2" cy="150.1" r="2.0"/><circle cx="356.95" cy="150.1" r="2.0"/><circle cx="360.7" cy="150.1" r="2.0"/><circle cx="364.45" cy="150.1" r="2.0"/><circle cx="368.2" cy="150.1" r="2.0"/><circle cx="371.95" cy="150.1" r="2.0"/><circle cx="375.7" cy="150.1" r="2.0"/><circle cx="379.45" cy="150.1" r="2.0"/><circle cx="383.2" cy="150.1" r="2.0"/><circle cx="386.95" cy="150.1" r="2.0"/><circle cx="390.7" cy="150.1" r="2.0"/><circle cx="394.45" cy="150.1" r="2.0"/><circle cx="398.2" cy="150.1" r="2.0"/><circle cx="360.4" cy="153.5" r="1.4"/><circle cx="364.3" cy="153.5" r="1.4"/><circle cx="368.2" cy="153.5" r="1.4"/><circle cx="372.1" cy="153.5" r="1.4"/><circle cx="376" cy="153.5" r="1.4"/><circle cx="362.35" cy="156.5" r="1.4"/><circle cx="366.25" cy="156.5" r="1.4"/><circle cx="370.15" cy="156.5" r="1.4"/><circle cx="374.05" cy="156.5" r="1.4"/></g>
<line x1="335" y1="127.4" x2="401" y2="127.4" stroke="#111" stroke-width="1.7"/>
<path fill="#2b3a74" d="M462.78 96.38L464.4 93.61L466.01 96.38ZM449.19 108.78L450.8 106.01L452.42 108.78ZM452.99 106.28L454.6 103.51L456.22 106.28ZM456.38 107.18L458 104.41L459.62 107.18ZM460.19 107.48L461.8 104.71L463.42 107.48ZM463.99 107.48L465.6 104.71L467.22 107.48ZM467.78 107.18L469.4 104.41L471.01 107.18ZM471.58 106.28L473.2 103.51L474.81 106.28ZM475.38 108.38L477 105.61L478.62 108.38ZM451.28 111.28L452.9 108.51L454.51 111.28ZM454.78 111.28L456.4 108.51L458.01 111.28ZM458.58 110.98L460.2 108.21L461.81 110.98ZM462.38 110.98L464 108.21L465.62 110.98ZM465.88 111.28L467.5 108.51L469.12 111.28ZM469.69 110.58L471.3 107.81L472.92 110.58ZM473.49 111.88L475.1 109.11L476.72 111.88ZM446.88 117.28L448.5 114.51L450.12 117.28ZM450.99 115.38L452.6 112.61L454.22 115.38ZM454.78 114.78L456.4 112.01L458.01 114.78ZM458.58 115.38L460.2 112.61L461.81 115.38ZM462.38 115.18L464 112.41L465.62 115.18ZM466.19 115.38L467.8 112.61L469.42 115.38ZM469.99 115.18L471.6 112.41L473.22 115.18ZM474.19 117.28L475.8 114.51L477.42 117.28ZM477.99 117.28L479.6 114.51L481.22 117.28ZM451.28 118.58L452.9 115.81L454.51 118.58ZM454.99 118.58L456.6 115.81L458.22 118.58ZM458.69 118.58L460.3 115.81L461.92 118.58ZM462.38 118.58L464 115.81L465.62 118.58ZM466.08 118.58L467.7 115.81L469.31 118.58ZM469.78 118.58L471.4 115.81L473.01 118.58ZM448.38 121.78L450 119.01L451.62 121.78ZM452.38 121.78L454 119.01L455.62 121.78ZM456.38 121.78L458 119.01L459.62 121.78ZM460.38 121.78L462 119.01L463.62 121.78ZM464.38 121.78L466 119.01L467.62 121.78ZM468.38 121.78L470 119.01L471.62 121.78ZM472.38 121.78L474 119.01L475.62 121.78ZM476.38 121.78L478 119.01L479.62 121.78ZM435.49 124.88L437.1 122.11L438.72 124.88ZM438.28 125.28L439.9 122.51L441.51 125.28ZM441.58 125.28L443.2 122.51L444.81 125.28ZM444.08 125.78L445.7 123.01L447.31 125.78ZM446.58 127.48L448.2 124.71L449.81 127.48ZM451.28 128.07L452.9 125.31L454.51 128.07ZM454.49 128.68L456.1 125.91L457.72 128.68ZM458.28 128.07L459.9 125.31L461.51 128.07ZM462.08 129.07L463.7 126.31L465.31 129.07ZM466.19 128.07L467.8 125.31L469.42 128.07ZM469.69 128.68L471.3 125.91L472.92 128.68ZM474.19 128.07L475.8 125.31L477.42 128.07ZM478.38 126.78L480 124.01L481.62 126.78ZM482.19 125.78L483.8 123.01L485.42 125.78ZM485.58 125.28L487.2 122.51L488.81 125.28ZM488.99 124.88L490.6 122.11L492.22 124.88ZM457.28 130.38L458.9 127.61L460.51 130.38ZM463.08 130.88L464.7 128.11L466.31 130.88ZM460.58 133.18L462.2 130.41L463.81 133.18ZM464.38 132.18L466 129.41L467.62 132.18ZM460.58 135.68L462.2 132.91L463.81 135.68ZM464.38 135.68L466 132.91L467.62 135.68ZM458.08 139.28L459.7 136.51L461.31 139.28ZM465.88 138.28L467.5 135.51L469.12 138.28ZM461.88 140.97L463.5 138.21L465.12 140.97ZM458.28 145.88L459.9 143.11L461.51 145.88ZM466.58 146.08L468.2 143.31L469.81 146.08ZM462.38 149.68L464 146.91L465.62 149.68Z"/>
<g stroke="#111" stroke-width="1.4" fill="none"><line x1="432.2" y1="120.4" x2="496.6" y2="120.4" stroke-width="1.6"/><line x1="447.4" y1="118.5" x2="481.4" y2="118.5"/><line x1="447.4" y1="122.4" x2="481.4" y2="122.4"/><line x1="464.4" y1="118.5" x2="464.4" y2="122.4"/></g>
<line x1="320" y1="127.3" x2="515" y2="127.3" stroke="#111" stroke-width="1.45" stroke-dasharray="3.2 2.2"/>
<path d="M368.6 52.2V48.05H466.4V52.2" fill="none" stroke="#1a1a1a" stroke-width="1.35"/>
<circle cx="413.2" cy="42.6" r="1.35" fill="#111"/>
<circle cx="417.1" cy="42.6" r="1.35" fill="#111"/>
<circle cx="421" cy="42.6" r="1.35" fill="#111"/>
<text x="7.5" y="207.4" font-size="11.2" font-weight="bold" fill="#111" stroke="#111" stroke-width="0.3">C</text>
<line x1="58.5" y1="218.2" x2="58.5" y2="350.2" stroke="#111" stroke-width="1.5"/>
<line x1="57.75" y1="349.65" x2="251.5" y2="349.65" stroke="#111" stroke-width="1.75"/>
<line x1="54.9" y1="349.5" x2="58.5" y2="349.5" stroke="#111" stroke-width="1.2"/>
<text x="51.5" y="352.8" text-anchor="end" font-size="8.2" fill="#2e2e2e" stroke="#2e2e2e" stroke-width="0.25">0</text>
<line x1="54.9" y1="324" x2="58.5" y2="324" stroke="#111" stroke-width="1.2"/>
<text x="51.5" y="327.3" text-anchor="end" font-size="8.2" fill="#2e2e2e" stroke="#2e2e2e" stroke-width="0.25">5000</text>
<line x1="54.9" y1="298.5" x2="58.5" y2="298.5" stroke="#111" stroke-width="1.2"/>
<text x="51.5" y="301.8" text-anchor="end" font-size="8.2" fill="#2e2e2e" stroke="#2e2e2e" stroke-width="0.25">10,000</text>
<line x1="54.9" y1="273" x2="58.5" y2="273" stroke="#111" stroke-width="1.2"/>
<text x="51.5" y="276.3" text-anchor="end" font-size="8.2" fill="#2e2e2e" stroke="#2e2e2e" stroke-width="0.25">15,000</text>
<line x1="54.9" y1="247.5" x2="58.5" y2="247.5" stroke="#111" stroke-width="1.2"/>
<text x="51.5" y="250.8" text-anchor="end" font-size="8.2" fill="#2e2e2e" stroke="#2e2e2e" stroke-width="0.25">20,000</text>
<line x1="54.9" y1="222" x2="58.5" y2="222" stroke="#111" stroke-width="1.2"/>
<text x="51.5" y="225.3" text-anchor="end" font-size="8.2" fill="#2e2e2e" stroke="#2e2e2e" stroke-width="0.25">25,000</text>
<line x1="82.5" y1="349.5" x2="82.5" y2="353" stroke="#111" stroke-width="1.2"/>
<line x1="130.2" y1="349.5" x2="130.2" y2="353" stroke="#111" stroke-width="1.2"/>
<line x1="177.3" y1="349.5" x2="177.3" y2="353" stroke="#111" stroke-width="1.2"/>
<line x1="224.9" y1="349.5" x2="224.9" y2="353" stroke="#111" stroke-width="1.2"/>
<text transform="translate(16.2,283.55) rotate(-90)" text-anchor="middle" font-size="9.5" textLength="64" lengthAdjust="spacingAndGlyphs" fill="#2e2e2e" stroke="#2e2e2e" stroke-width="0.25">sCD40L (pg/mL)</text>
<text x="82.5" y="364.8" text-anchor="middle" font-size="8.2" fill="#2e2e2e" stroke="#2e2e2e" stroke-width="0.25">1-2</text>
<text x="130.2" y="364.8" text-anchor="middle" font-size="8.2" fill="#2e2e2e" stroke="#2e2e2e" stroke-width="0.25">2-3</text>
<text x="177.3" y="364.8" text-anchor="middle" font-size="8.2" fill="#2e2e2e" stroke="#2e2e2e" stroke-width="0.25">3-4</text>
<text x="224.9" y="364.8" text-anchor="middle" font-size="8.2" fill="#2e2e2e" stroke="#2e2e2e" stroke-width="0.25">4-5</text>
<text x="155" y="375.3" text-anchor="middle" font-size="9.8" textLength="18.4" lengthAdjust="spacingAndGlyphs" fill="#2e2e2e" stroke="#2e2e2e" stroke-width="0.25">Days</text>
<g fill="#b0112f" stroke="#600818" stroke-width="0.3"><circle cx="82.6" cy="291.3" r="1.4"/><circle cx="78.6" cy="293.7" r="1.4"/><circle cx="86.3" cy="295.1" r="1.4"/><circle cx="82.6" cy="297" r="1.4"/><circle cx="82.6" cy="303.2" r="1.4"/><circle cx="76.8" cy="305.2" r="1.4"/><circle cx="88.5" cy="304.4" r="1.4"/><circle cx="80.7" cy="307.6" r="1.4"/><circle cx="84.5" cy="307.8" r="1.4"/><circle cx="76.8" cy="309.8" r="1.4"/><circle cx="80.7" cy="310.5" r="1.4"/><circle cx="88.5" cy="310.1" r="1.4"/><circle cx="84.5" cy="312" r="1.4"/><circle cx="72.8" cy="313.2" r="1.4"/><circle cx="76.8" cy="314.5" r="1.4"/><circle cx="88.5" cy="313.6" r="1.4"/><circle cx="92.1" cy="312.5" r="1.4"/><circle cx="80.7" cy="316" r="1.4"/><circle cx="84.5" cy="314.5" r="1.4"/><circle cx="68.8" cy="317.4" r="1.4"/><circle cx="72.8" cy="317.4" r="1.4"/><circle cx="92.1" cy="317.4" r="1.4"/><circle cx="95.8" cy="317.1" r="1.4"/><circle cx="70.8" cy="319" r="1.35"/><circle cx="74.7" cy="319" r="1.35"/><circle cx="78.6" cy="319" r="1.35"/><circle cx="82.5" cy="319" r="1.35"/><circle cx="86.4" cy="319" r="1.35"/><circle cx="90.3" cy="319" r="1.35"/><circle cx="94.2" cy="319" r="1.35"/><circle cx="71.77" cy="320.8" r="1.35"/><circle cx="75.67" cy="320.8" r="1.35"/><circle cx="79.57" cy="320.8" r="1.35"/><circle cx="83.47" cy="320.8" r="1.35"/><circle cx="87.37" cy="320.8" r="1.35"/><circle cx="91.27" cy="320.8" r="1.35"/><circle cx="95.17" cy="320.8" r="1.35"/><circle cx="68.84" cy="322.6" r="1.35"/><circle cx="72.74" cy="322.6" r="1.35"/><circle cx="76.64" cy="322.6" r="1.35"/><circle cx="80.54" cy="322.6" r="1.35"/><circle cx="84.44" cy="322.6" r="1.35"/><circle cx="88.34" cy="322.6" r="1.35"/><circle cx="92.24" cy="322.6" r="1.35"/><circle cx="96.14" cy="322.6" r="1.35"/><circle cx="71.77" cy="324.4" r="1.35"/><circle cx="75.67" cy="324.4" r="1.35"/><circle cx="79.57" cy="324.4" r="1.35"/><circle cx="83.47" cy="324.4" r="1.35"/><circle cx="87.37" cy="324.4" r="1.35"/><circle cx="91.27" cy="324.4" r="1.35"/><circle cx="95.17" cy="324.4" r="1.35"/><circle cx="68.84" cy="326.2" r="1.35"/><circle cx="72.74" cy="326.2" r="1.35"/><circle cx="76.64" cy="326.2" r="1.35"/><circle cx="80.54" cy="326.2" r="1.35"/><circle cx="84.44" cy="326.2" r="1.35"/><circle cx="88.34" cy="326.2" r="1.35"/><circle cx="92.24" cy="326.2" r="1.35"/><circle cx="96.14" cy="326.2" r="1.35"/><circle cx="71.77" cy="328" r="1.35"/><circle cx="75.67" cy="328" r="1.35"/><circle cx="79.57" cy="328" r="1.35"/><circle cx="83.47" cy="328" r="1.35"/><circle cx="87.37" cy="328" r="1.35"/><circle cx="91.27" cy="328" r="1.35"/><circle cx="95.17" cy="328" r="1.35"/><circle cx="70.8" cy="330.5" r="2.0"/><circle cx="74.7" cy="330.5" r="2.0"/><circle cx="78.6" cy="330.5" r="2.0"/><circle cx="82.5" cy="330.5" r="2.0"/><circle cx="86.4" cy="330.5" r="2.0"/><circle cx="90.3" cy="330.5" r="2.0"/><circle cx="94.2" cy="330.5" r="2.0"/><circle cx="70.8" cy="334.35" r="2.0"/><circle cx="74.7" cy="334.35" r="2.0"/><circle cx="78.6" cy="334.35" r="2.0"/><circle cx="82.5" cy="334.35" r="2.0"/><circle cx="86.4" cy="334.35" r="2.0"/><circle cx="90.3" cy="334.35" r="2.0"/><circle cx="94.2" cy="334.35" r="2.0"/><circle cx="70.8" cy="338.2" r="2.0"/><circle cx="74.7" cy="338.2" r="2.0"/><circle cx="78.6" cy="338.2" r="2.0"/><circle cx="82.5" cy="338.2" r="2.0"/><circle cx="86.4" cy="338.2" r="2.0"/><circle cx="90.3" cy="338.2" r="2.0"/><circle cx="94.2" cy="338.2" r="2.0"/><circle cx="70.8" cy="342.05" r="2.0"/><circle cx="74.7" cy="342.05" r="2.0"/><circle cx="78.6" cy="342.05" r="2.0"/><circle cx="82.5" cy="342.05" r="2.0"/><circle cx="86.4" cy="342.05" r="2.0"/><circle cx="90.3" cy="342.05" r="2.0"/><circle cx="94.2" cy="342.05" r="2.0"/><circle cx="72.75" cy="344.2" r="1.4"/><circle cx="76.65" cy="344.2" r="1.4"/><circle cx="80.55" cy="344.2" r="1.4"/><circle cx="84.45" cy="344.2" r="1.4"/><circle cx="88.35" cy="344.2" r="1.4"/><circle cx="92.25" cy="344.2" r="1.4"/><circle cx="74.7" cy="346.3" r="1.4"/><circle cx="78.6" cy="346.3" r="1.4"/><circle cx="82.5" cy="346.3" r="1.4"/><circle cx="86.4" cy="346.3" r="1.4"/><circle cx="90.3" cy="346.3" r="1.4"/><circle cx="78.6" cy="348.3" r="1.4"/><circle cx="82.5" cy="348.3" r="1.4"/><circle cx="86.4" cy="348.3" r="1.4"/></g>
<line x1="66" y1="329.5" x2="98.8" y2="329.5" stroke="#111" stroke-width="2.3"/>
<g fill="#b0112f" stroke="#600818" stroke-width="0.3"><circle cx="131.8" cy="274.4" r="1.4"/><circle cx="128" cy="278.2" r="1.4"/><circle cx="133.9" cy="279.2" r="1.4"/><circle cx="126" cy="281" r="1.4"/><circle cx="130" cy="282.7" r="1.4"/><circle cx="124.2" cy="286" r="1.4"/><circle cx="131.8" cy="286.7" r="1.4"/><circle cx="135.8" cy="285.3" r="1.4"/><circle cx="128" cy="288.7" r="1.4"/><circle cx="126" cy="292.3" r="1.4"/><circle cx="130" cy="293.3" r="1.4"/><circle cx="133.9" cy="292.1" r="1.4"/><circle cx="118.6" cy="296.1" r="1.4"/><circle cx="122.4" cy="297.6" r="1.4"/><circle cx="126" cy="298.5" r="1.4"/><circle cx="130" cy="299.3" r="1.4"/><circle cx="133.9" cy="298.5" r="1.4"/><circle cx="137.6" cy="297.6" r="1.4"/><circle cx="141.6" cy="296.8" r="1.4"/><circle cx="118.6" cy="303.4" r="1.4"/><circle cx="122.4" cy="303.1" r="1.4"/><circle cx="124.2" cy="302.3" r="1.4"/><circle cx="128" cy="303.1" r="1.4"/><circle cx="131.8" cy="303.1" r="1.4"/><circle cx="135.8" cy="301.6" r="1.4"/><circle cx="137.6" cy="303.1" r="1.4"/><circle cx="141.6" cy="303.4" r="1.4"/><circle cx="118.5" cy="305.5" r="1.3"/><circle cx="122.4" cy="305.5" r="1.3"/><circle cx="126.3" cy="305.5" r="1.3"/><circle cx="130.2" cy="305.5" r="1.3"/><circle cx="134.1" cy="305.5" r="1.3"/><circle cx="138" cy="305.5" r="1.3"/><circle cx="141.9" cy="305.5" r="1.3"/><circle cx="118.5" cy="307.25" r="1.3"/><circle cx="122.4" cy="307.25" r="1.3"/><circle cx="126.3" cy="307.25" r="1.3"/><circle cx="130.2" cy="307.25" r="1.3"/><circle cx="134.1" cy="307.25" r="1.3"/><circle cx="138" cy="307.25" r="1.3"/><circle cx="141.9" cy="307.25" r="1.3"/><circle cx="118.5" cy="309" r="1.3"/><circle cx="122.4" cy="309" r="1.3"/><circle cx="126.3" cy="309" r="1.3"/><circle cx="130.2" cy="309" r="1.3"/><circle cx="134.1" cy="309" r="1.3"/><circle cx="138" cy="309" r="1.3"/><circle cx="141.9" cy="309" r="1.3"/><circle cx="118.5" cy="310.75" r="1.3"/><circle cx="122.4" cy="310.75" r="1.3"/><circle cx="126.3" cy="310.75" r="1.3"/><circle cx="130.2" cy="310.75" r="1.3"/><circle cx="134.1" cy="310.75" r="1.3"/><circle cx="138" cy="310.75" r="1.3"/><circle cx="118.5" cy="314" r="1.35"/><circle cx="122.4" cy="314" r="1.35"/><circle cx="126.3" cy="314" r="1.35"/><circle cx="130.2" cy="314" r="1.35"/><circle cx="134.1" cy="314" r="1.35"/><circle cx="138" cy="314" r="1.35"/><circle cx="141.9" cy="314" r="1.35"/><circle cx="119.47" cy="315.8" r="1.35"/><circle cx="123.37" cy="315.8" r="1.35"/><circle cx="127.27" cy="315.8" r="1.35"/><circle cx="131.17" cy="315.8" r="1.35"/><circle cx="135.07" cy="315.8" r="1.35"/><circle cx="138.97" cy="315.8" r="1.35"/><circle cx="142.87" cy="315.8" r="1.35"/><circle cx="116.54" cy="317.6" r="1.35"/><circle cx="120.44" cy="317.6" r="1.35"/><circle cx="124.34" cy="317.6" r="1.35"/><circle cx="128.24" cy="317.6" r="1.35"/><circle cx="132.14" cy="317.6" r="1.35"/><circle cx="136.04" cy="317.6" r="1.35"/><circle cx="139.94" cy="317.6" r="1.35"/><circle cx="143.84" cy="317.6" r="1.35"/><circle cx="117.51" cy="319.4" r="1.35"/><circle cx="121.41" cy="319.4" r="1.35"/><circle cx="125.31" cy="319.4" r="1.35"/><circle cx="129.21" cy="319.4" r="1.35"/><circle cx="133.11" cy="319.4" r="1.35"/><circle cx="137.01" cy="319.4" r="1.35"/><circle cx="140.91" cy="319.4" r="1.35"/><circle cx="116.54" cy="321.2" r="1.35"/><circle cx="120.44" cy="321.2" r="1.35"/><circle cx="124.34" cy="321.2" r="1.35"/><circle cx="128.24" cy="321.2" r="1.35"/><circle cx="132.14" cy="321.2" r="1.35"/><circle cx="136.04" cy="321.2" r="1.35"/><circle cx="139.94" cy="321.2" r="1.35"/><circle cx="143.84" cy="321.2" r="1.35"/><circle cx="118.5" cy="324.5" r="2.0"/><circle cx="122.4" cy="324.5" r="2.0"/><circle cx="126.3" cy="324.5" r="2.0"/><circle cx="130.2" cy="324.5" r="2.0"/><circle cx="134.1" cy="324.5" r="2.0"/><circle cx="138" cy="324.5" r="2.0"/><circle cx="141.9" cy="324.5" r="2.0"/><circle cx="118.5" cy="328.35" r="2.0"/><circle cx="122.4" cy="328.35" r="2.0"/><circle cx="126.3" cy="328.35" r="2.0"/><circle cx="130.2" cy="328.35" r="2.0"/><circle cx="134.1" cy="328.35" r="2.0"/><circle cx="138" cy="328.35" r="2.0"/><circle cx="141.9" cy="328.35" r="2.0"/><circle cx="118.5" cy="332.2" r="2.0"/><circle cx="122.4" cy="332.2" r="2.0"/><circle cx="126.3" cy="332.2" r="2.0"/><circle cx="130.2" cy="332.2" r="2.0"/><circle cx="134.1" cy="332.2" r="2.0"/><circle cx="138" cy="332.2" r="2.0"/><circle cx="141.9" cy="332.2" r="2.0"/><circle cx="118.5" cy="336.05" r="2.0"/><circle cx="122.4" cy="336.05" r="2.0"/><circle cx="126.3" cy="336.05" r="2.0"/><circle cx="130.2" cy="336.05" r="2.0"/><circle cx="134.1" cy="336.05" r="2.0"/><circle cx="138" cy="336.05" r="2.0"/><circle cx="141.9" cy="336.05" r="2.0"/><circle cx="118.5" cy="339.9" r="2.0"/><circle cx="122.4" cy="339.9" r="2.0"/><circle cx="126.3" cy="339.9" r="2.0"/><circle cx="130.2" cy="339.9" r="2.0"/><circle cx="134.1" cy="339.9" r="2.0"/><circle cx="138" cy="339.9" r="2.0"/><circle cx="141.9" cy="339.9" r="2.0"/><circle cx="118.5" cy="343.75" r="2.0"/><circle cx="122.4" cy="343.75" r="2.0"/><circle cx="126.3" cy="343.75" r="2.0"/><circle cx="130.2" cy="343.75" r="2.0"/><circle cx="134.1" cy="343.75" r="2.0"/><circle cx="138" cy="343.75" r="2.0"/><circle cx="141.9" cy="343.75" r="2.0"/><circle cx="120.45" cy="347" r="1.4"/><circle cx="124.35" cy="347" r="1.4"/><circle cx="128.25" cy="347" r="1.4"/><circle cx="132.15" cy="347" r="1.4"/><circle cx="136.05" cy="347" r="1.4"/><circle cx="139.95" cy="347" r="1.4"/></g>
<line x1="114" y1="329.1" x2="146.3" y2="329.1" stroke="#111" stroke-width="2.3"/>
<g fill="#b0112f" stroke="#600818" stroke-width="0.3"><circle cx="177.4" cy="255.6" r="1.4"/><circle cx="175.6" cy="269" r="1.4"/><circle cx="179.5" cy="269.9" r="1.4"/><circle cx="171.7" cy="276.7" r="1.4"/><circle cx="175.6" cy="277.6" r="1.4"/><circle cx="179.5" cy="277.3" r="1.4"/><circle cx="183.2" cy="276.7" r="1.4"/><circle cx="175.6" cy="282" r="1.4"/><circle cx="179.5" cy="283.1" r="1.4"/><circle cx="167.7" cy="286.9" r="1.4"/><circle cx="171.7" cy="287.8" r="1.4"/><circle cx="175.6" cy="290.3" r="1.4"/><circle cx="179.5" cy="288.1" r="1.4"/><circle cx="183.2" cy="287" r="1.4"/><circle cx="187.2" cy="286.6" r="1.4"/><circle cx="166.1" cy="294.9" r="1.4"/><circle cx="170" cy="295.4" r="1.4"/><circle cx="173.9" cy="295.4" r="1.4"/><circle cx="177.6" cy="295.6" r="1.4"/><circle cx="181.3" cy="295.4" r="1.4"/><circle cx="185.3" cy="295.2" r="1.4"/><circle cx="189.3" cy="294.4" r="1.4"/><circle cx="164" cy="297.7" r="1.4"/><circle cx="168" cy="298.1" r="1.4"/><circle cx="171.7" cy="300" r="1.4"/><circle cx="175.6" cy="301.1" r="1.4"/><circle cx="179.5" cy="300.7" r="1.4"/><circle cx="183.2" cy="299.5" r="1.4"/><circle cx="187.2" cy="298" r="1.4"/><circle cx="191.1" cy="298" r="1.4"/><circle cx="165.6" cy="303" r="1.3"/><circle cx="169.5" cy="303" r="1.3"/><circle cx="173.4" cy="303" r="1.3"/><circle cx="177.3" cy="303" r="1.3"/><circle cx="181.2" cy="303" r="1.3"/><circle cx="185.1" cy="303" r="1.3"/><circle cx="189" cy="303" r="1.3"/><circle cx="165.6" cy="304.75" r="1.3"/><circle cx="169.5" cy="304.75" r="1.3"/><circle cx="173.4" cy="304.75" r="1.3"/><circle cx="177.3" cy="304.75" r="1.3"/><circle cx="181.2" cy="304.75" r="1.3"/><circle cx="185.1" cy="304.75" r="1.3"/><circle cx="189" cy="304.75" r="1.3"/><circle cx="165.6" cy="306.5" r="1.3"/><circle cx="169.5" cy="306.5" r="1.3"/><circle cx="173.4" cy="306.5" r="1.3"/><circle cx="177.3" cy="306.5" r="1.3"/><circle cx="181.2" cy="306.5" r="1.3"/><circle cx="185.1" cy="306.5" r="1.3"/><circle cx="189" cy="306.5" r="1.3"/><circle cx="165.6" cy="308.25" r="1.3"/><circle cx="169.5" cy="308.25" r="1.3"/><circle cx="173.4" cy="308.25" r="1.3"/><circle cx="177.3" cy="308.25" r="1.3"/><circle cx="181.2" cy="308.25" r="1.3"/><circle cx="189" cy="308.25" r="1.3"/><circle cx="165.6" cy="310" r="1.3"/><circle cx="169.5" cy="310" r="1.3"/><circle cx="173.4" cy="310" r="1.3"/><circle cx="177.3" cy="310" r="1.3"/><circle cx="181.2" cy="310" r="1.3"/><circle cx="185.1" cy="310" r="1.3"/><circle cx="165.6" cy="311.75" r="1.3"/><circle cx="169.5" cy="311.75" r="1.3"/><circle cx="173.4" cy="311.75" r="1.3"/><circle cx="177.3" cy="311.75" r="1.3"/><circle cx="181.2" cy="311.75" r="1.3"/><circle cx="185.1" cy="311.75" r="1.3"/><circle cx="189" cy="311.75" r="1.3"/><circle cx="165.6" cy="313.5" r="1.3"/><circle cx="169.5" cy="313.5" r="1.3"/><circle cx="173.4" cy="313.5" r="1.3"/><circle cx="177.3" cy="313.5" r="1.3"/><circle cx="181.2" cy="313.5" r="1.3"/><circle cx="185.1" cy="313.5" r="1.3"/><circle cx="189" cy="313.5" r="1.3"/><circle cx="165.6" cy="315.25" r="1.3"/><circle cx="169.5" cy="315.25" r="1.3"/><circle cx="173.4" cy="315.25" r="1.3"/><circle cx="177.3" cy="315.25" r="1.3"/><circle cx="185.1" cy="315.25" r="1.3"/><circle cx="189" cy="315.25" r="1.3"/><circle cx="165.6" cy="317" r="1.3"/><circle cx="169.5" cy="317" r="1.3"/><circle cx="173.4" cy="317" r="1.3"/><circle cx="177.3" cy="317" r="1.3"/><circle cx="181.2" cy="317" r="1.3"/><circle cx="185.1" cy="317" r="1.3"/><circle cx="189" cy="317" r="1.3"/><circle cx="165.6" cy="318.5" r="1.35"/><circle cx="169.5" cy="318.5" r="1.35"/><circle cx="173.4" cy="318.5" r="1.35"/><circle cx="177.3" cy="318.5" r="1.35"/><circle cx="181.2" cy="318.5" r="1.35"/><circle cx="185.1" cy="318.5" r="1.35"/><circle cx="189" cy="318.5" r="1.35"/><circle cx="166.57" cy="320.3" r="1.35"/><circle cx="170.47" cy="320.3" r="1.35"/><circle cx="174.37" cy="320.3" r="1.35"/><circle cx="178.27" cy="320.3" r="1.35"/><circle cx="182.17" cy="320.3" r="1.35"/><circle cx="186.07" cy="320.3" r="1.35"/><circle cx="189.97" cy="320.3" r="1.35"/><circle cx="163.64" cy="322.1" r="1.35"/><circle cx="167.54" cy="322.1" r="1.35"/><circle cx="171.44" cy="322.1" r="1.35"/><circle cx="175.34" cy="322.1" r="1.35"/><circle cx="179.24" cy="322.1" r="1.35"/><circle cx="183.14" cy="322.1" r="1.35"/><circle cx="187.04" cy="322.1" r="1.35"/><circle cx="190.94" cy="322.1" r="1.35"/><circle cx="164.61" cy="323.9" r="1.35"/><circle cx="168.51" cy="323.9" r="1.35"/><circle cx="172.41" cy="323.9" r="1.35"/><circle cx="176.31" cy="323.9" r="1.35"/><circle cx="180.21" cy="323.9" r="1.35"/><circle cx="184.11" cy="323.9" r="1.35"/><circle cx="188.01" cy="323.9" r="1.35"/><circle cx="165.6" cy="326.5" r="2.0"/><circle cx="169.5" cy="326.5" r="2.0"/><circle cx="173.4" cy="326.5" r="2.0"/><circle cx="177.3" cy="326.5" r="2.0"/><circle cx="181.2" cy="326.5" r="2.0"/><circle cx="185.1" cy="326.5" r="2.0"/><circle cx="189" cy="326.5" r="2.0"/><circle cx="165.6" cy="330.35" r="2.0"/><circle cx="169.5" cy="330.35" r="2.0"/><circle cx="173.4" cy="330.35" r="2.0"/><circle cx="177.3" cy="330.35" r="2.0"/><circle cx="181.2" cy="330.35" r="2.0"/><circle cx="185.1" cy="330.35" r="2.0"/><circle cx="189" cy="330.35" r="2.0"/><circle cx="165.6" cy="334.2" r="2.0"/><circle cx="169.5" cy="334.2" r="2.0"/><circle cx="173.4" cy="334.2" r="2.0"/><circle cx="177.3" cy="334.2" r="2.0"/><circle cx="181.2" cy="334.2" r="2.0"/><circle cx="185.1" cy="334.2" r="2.0"/><circle cx="189" cy="334.2" r="2.0"/><circle cx="165.6" cy="338.05" r="2.0"/><circle cx="169.5" cy="338.05" r="2.0"/><circle cx="173.4" cy="338.05" r="2.0"/><circle cx="177.3" cy="338.05" r="2.0"/><circle cx="181.2" cy="338.05" r="2.0"/><circle cx="185.1" cy="338.05" r="2.0"/><circle cx="189" cy="338.05" r="2.0"/><circle cx="165.6" cy="341.9" r="2.0"/><circle cx="169.5" cy="341.9" r="2.0"/><circle cx="173.4" cy="341.9" r="2.0"/><circle cx="177.3" cy="341.9" r="2.0"/><circle cx="181.2" cy="341.9" r="2.0"/><circle cx="185.1" cy="341.9" r="2.0"/><circle cx="189" cy="341.9" r="2.0"/><circle cx="167.55" cy="348" r="1.4"/><circle cx="171.45" cy="348" r="1.4"/><circle cx="175.35" cy="348" r="1.4"/><circle cx="179.25" cy="348" r="1.4"/><circle cx="183.15" cy="348" r="1.4"/><circle cx="187.05" cy="348" r="1.4"/></g>
<line x1="161.6" y1="327.3" x2="193.8" y2="327.3" stroke="#111" stroke-width="2.3"/>
<g fill="#b0112f" stroke="#600818" stroke-width="0.3"><circle cx="225.2" cy="249.4" r="1.4"/><circle cx="224.7" cy="264.9" r="1.4"/><circle cx="227.3" cy="266.6" r="1.4"/><circle cx="223" cy="270.2" r="1.4"/><circle cx="223" cy="282.2" r="1.4"/><circle cx="226.9" cy="284.2" r="1.4"/><circle cx="226.9" cy="286.4" r="1.4"/><circle cx="223" cy="289.8" r="1.4"/><circle cx="219" cy="292.8" r="1.4"/><circle cx="223" cy="292.8" r="1.4"/><circle cx="226.9" cy="292.8" r="1.4"/><circle cx="230.7" cy="292.8" r="1.4"/><circle cx="219" cy="295.5" r="1.4"/><circle cx="223" cy="295.5" r="1.4"/><circle cx="226.9" cy="295.5" r="1.4"/><circle cx="230.7" cy="295.5" r="1.4"/><circle cx="211.1" cy="298.3" r="1.4"/><circle cx="211.1" cy="300.6" r="1.4"/><circle cx="215" cy="298" r="1.4"/><circle cx="234.8" cy="298.3" r="1.4"/><circle cx="238.8" cy="298.3" r="1.4"/><circle cx="238.8" cy="301.1" r="1.4"/><circle cx="215" cy="302.8" r="1.4"/><circle cx="234.8" cy="302.8" r="1.4"/><circle cx="219" cy="298.5" r="1.4"/><circle cx="223" cy="298.5" r="1.4"/><circle cx="226.9" cy="298.5" r="1.4"/><circle cx="230.7" cy="298.5" r="1.4"/><circle cx="213.2" cy="303.5" r="1.35"/><circle cx="217.1" cy="303.5" r="1.35"/><circle cx="221" cy="303.5" r="1.35"/><circle cx="224.9" cy="303.5" r="1.35"/><circle cx="228.8" cy="303.5" r="1.35"/><circle cx="232.7" cy="303.5" r="1.35"/><circle cx="236.6" cy="303.5" r="1.35"/><circle cx="210.27" cy="305.4" r="1.35"/><circle cx="214.17" cy="305.4" r="1.35"/><circle cx="218.07" cy="305.4" r="1.35"/><circle cx="221.97" cy="305.4" r="1.35"/><circle cx="225.87" cy="305.4" r="1.35"/><circle cx="229.77" cy="305.4" r="1.35"/><circle cx="233.67" cy="305.4" r="1.35"/><circle cx="237.57" cy="305.4" r="1.35"/><circle cx="213.2" cy="307.3" r="1.35"/><circle cx="217.1" cy="307.3" r="1.35"/><circle cx="224.9" cy="307.3" r="1.35"/><circle cx="228.8" cy="307.3" r="1.35"/><circle cx="232.7" cy="307.3" r="1.35"/><circle cx="236.6" cy="307.3" r="1.35"/><circle cx="212.23" cy="309.2" r="1.35"/><circle cx="216.13" cy="309.2" r="1.35"/><circle cx="220.03" cy="309.2" r="1.35"/><circle cx="223.93" cy="309.2" r="1.35"/><circle cx="227.83" cy="309.2" r="1.35"/><circle cx="231.73" cy="309.2" r="1.35"/><circle cx="235.63" cy="309.2" r="1.35"/><circle cx="239.53" cy="309.2" r="1.35"/><circle cx="211.26" cy="311.1" r="1.35"/><circle cx="215.16" cy="311.1" r="1.35"/><circle cx="219.06" cy="311.1" r="1.35"/><circle cx="222.96" cy="311.1" r="1.35"/><circle cx="226.86" cy="311.1" r="1.35"/><circle cx="230.76" cy="311.1" r="1.35"/><circle cx="234.66" cy="311.1" r="1.35"/><circle cx="238.56" cy="311.1" r="1.35"/><circle cx="212.23" cy="313" r="1.35"/><circle cx="216.13" cy="313" r="1.35"/><circle cx="220.03" cy="313" r="1.35"/><circle cx="223.93" cy="313" r="1.35"/><circle cx="227.83" cy="313" r="1.35"/><circle cx="231.73" cy="313" r="1.35"/><circle cx="235.63" cy="313" r="1.35"/><circle cx="239.53" cy="313" r="1.35"/><circle cx="217.1" cy="314.9" r="1.35"/><circle cx="221" cy="314.9" r="1.35"/><circle cx="224.9" cy="314.9" r="1.35"/><circle cx="228.8" cy="314.9" r="1.35"/><circle cx="232.7" cy="314.9" r="1.35"/><circle cx="236.6" cy="314.9" r="1.35"/><circle cx="212.23" cy="316.8" r="1.35"/><circle cx="220.03" cy="316.8" r="1.35"/><circle cx="223.93" cy="316.8" r="1.35"/><circle cx="227.83" cy="316.8" r="1.35"/><circle cx="231.73" cy="316.8" r="1.35"/><circle cx="235.63" cy="316.8" r="1.35"/><circle cx="239.53" cy="316.8" r="1.35"/><circle cx="213.2" cy="321" r="2.0"/><circle cx="217.1" cy="321" r="2.0"/><circle cx="221" cy="321" r="2.0"/><circle cx="224.9" cy="321" r="2.0"/><circle cx="228.8" cy="321" r="2.0"/><circle cx="232.7" cy="321" r="2.0"/><circle cx="236.6" cy="321" r="2.0"/><circle cx="213.2" cy="324.85" r="2.0"/><circle cx="217.1" cy="324.85" r="2.0"/><circle cx="221" cy="324.85" r="2.0"/><circle cx="224.9" cy="324.85" r="2.0"/><circle cx="228.8" cy="324.85" r="2.0"/><circle cx="232.7" cy="324.85" r="2.0"/><circle cx="236.6" cy="324.85" r="2.0"/><circle cx="213.2" cy="328.7" r="2.0"/><circle cx="217.1" cy="328.7" r="2.0"/><circle cx="221" cy="328.7" r="2.0"/><circle cx="224.9" cy="328.7" r="2.0"/><circle cx="228.8" cy="328.7" r="2.0"/><circle cx="232.7" cy="328.7" r="2.0"/><circle cx="236.6" cy="328.7" r="2.0"/><circle cx="213.2" cy="332.55" r="2.0"/><circle cx="217.1" cy="332.55" r="2.0"/><circle cx="221" cy="332.55" r="2.0"/><circle cx="224.9" cy="332.55" r="2.0"/><circle cx="228.8" cy="332.55" r="2.0"/><circle cx="232.7" cy="332.55" r="2.0"/><circle cx="236.6" cy="332.55" r="2.0"/><circle cx="213.2" cy="336.4" r="2.0"/><circle cx="217.1" cy="336.4" r="2.0"/><circle cx="221" cy="336.4" r="2.0"/><circle cx="224.9" cy="336.4" r="2.0"/><circle cx="228.8" cy="336.4" r="2.0"/><circle cx="232.7" cy="336.4" r="2.0"/><circle cx="236.6" cy="336.4" r="2.0"/><circle cx="213.2" cy="340.25" r="2.0"/><circle cx="217.1" cy="340.25" r="2.0"/><circle cx="221" cy="340.25" r="2.0"/><circle cx="224.9" cy="340.25" r="2.0"/><circle cx="228.8" cy="340.25" r="2.0"/><circle cx="232.7" cy="340.25" r="2.0"/><circle cx="236.6" cy="340.25" r="2.0"/><circle cx="213.2" cy="344.1" r="2.0"/><circle cx="217.1" cy="344.1" r="2.0"/><circle cx="221" cy="344.1" r="2.0"/><circle cx="224.9" cy="344.1" r="2.0"/><circle cx="228.8" cy="344.1" r="2.0"/><circle cx="232.7" cy="344.1" r="2.0"/><circle cx="236.6" cy="344.1" r="2.0"/><circle cx="215.15" cy="348" r="1.4"/><circle cx="219.05" cy="348" r="1.4"/><circle cx="222.95" cy="348" r="1.4"/><circle cx="226.85" cy="348" r="1.4"/><circle cx="230.75" cy="348" r="1.4"/><circle cx="234.65" cy="348" r="1.4"/></g>
<line x1="209" y1="326.2" x2="241.5" y2="326.2" stroke="#111" stroke-width="2.3"/>
<path d="M130 247.1V242.95H177.4V247.1" fill="none" stroke="#1a1a1a" stroke-width="1.35"/>
<circle cx="151.35" cy="237" r="1.35" fill="#111"/>
<circle cx="155.25" cy="237" r="1.35" fill="#111"/>
<path d="M130 236.3V232.15H225.3V236.3" fill="none" stroke="#1a1a1a" stroke-width="1.35"/>
<circle cx="175.3" cy="226.2" r="1.35" fill="#111"/>
<circle cx="179.2" cy="226.2" r="1.35" fill="#111"/>
<text x="268" y="207.4" font-size="11.2" font-weight="bold" fill="#111" stroke="#111" stroke-width="0.3">D</text>
<line x1="320" y1="218.2" x2="320" y2="350" stroke="#111" stroke-width="1.5"/>
<line x1="319.25" y1="349.45" x2="512.8" y2="349.45" stroke="#111" stroke-width="1.75"/>
<line x1="316.4" y1="349.3" x2="320" y2="349.3" stroke="#111" stroke-width="1.2"/>
<text x="313" y="352.6" text-anchor="end" font-size="8.2" fill="#2e2e2e" stroke="#2e2e2e" stroke-width="0.25">0</text>
<line x1="316.4" y1="323.84" x2="320" y2="323.84" stroke="#111" stroke-width="1.2"/>
<text x="313" y="327.14" text-anchor="end" font-size="8.2" fill="#2e2e2e" stroke="#2e2e2e" stroke-width="0.25">5000</text>
<line x1="316.4" y1="298.38" x2="320" y2="298.38" stroke="#111" stroke-width="1.2"/>
<text x="313" y="301.68" text-anchor="end" font-size="8.2" fill="#2e2e2e" stroke="#2e2e2e" stroke-width="0.25">10,000</text>
<line x1="316.4" y1="272.92" x2="320" y2="272.92" stroke="#111" stroke-width="1.2"/>
<text x="313" y="276.22" text-anchor="end" font-size="8.2" fill="#2e2e2e" stroke="#2e2e2e" stroke-width="0.25">15,000</text>
<line x1="316.4" y1="247.46" x2="320" y2="247.46" stroke="#111" stroke-width="1.2"/>
<text x="313" y="250.76" text-anchor="end" font-size="8.2" fill="#2e2e2e" stroke="#2e2e2e" stroke-width="0.25">20,000</text>
<line x1="316.4" y1="222" x2="320" y2="222" stroke="#111" stroke-width="1.2"/>
<text x="313" y="225.3" text-anchor="end" font-size="8.2" fill="#2e2e2e" stroke="#2e2e2e" stroke-width="0.25">25,000</text>
<line x1="343.8" y1="349.3" x2="343.8" y2="352.8" stroke="#111" stroke-width="1.2"/>
<line x1="391.3" y1="349.3" x2="391.3" y2="352.8" stroke="#111" stroke-width="1.2"/>
<line x1="438.7" y1="349.3" x2="438.7" y2="352.8" stroke="#111" stroke-width="1.2"/>
<line x1="486.1" y1="349.3" x2="486.1" y2="352.8" stroke="#111" stroke-width="1.2"/>
<text transform="translate(275.4,283.45) rotate(-90)" text-anchor="middle" font-size="9.5" textLength="64" lengthAdjust="spacingAndGlyphs" fill="#2e2e2e" stroke="#2e2e2e" stroke-width="0.25">sCD40L (pg/mL)</text>
<text x="343.8" y="364.8" text-anchor="middle" font-size="8.2" fill="#2e2e2e" stroke="#2e2e2e" stroke-width="0.25">1-2</text>
<text x="391.3" y="364.8" text-anchor="middle" font-size="8.2" fill="#2e2e2e" stroke="#2e2e2e" stroke-width="0.25">2-3</text>
<text x="438.7" y="364.8" text-anchor="middle" font-size="8.2" fill="#2e2e2e" stroke="#2e2e2e" stroke-width="0.25">3-4</text>
<text x="486.1" y="364.8" text-anchor="middle" font-size="8.2" fill="#2e2e2e" stroke="#2e2e2e" stroke-width="0.25">4-5</text>
<text x="416.5" y="375.3" text-anchor="middle" font-size="9.8" textLength="18.4" lengthAdjust="spacingAndGlyphs" fill="#2e2e2e" stroke="#2e2e2e" stroke-width="0.25">Days</text>
<g fill="#b0112f" stroke="#600818" stroke-width="0.3"><circle cx="343.9" cy="284" r="1.4"/><circle cx="340.2" cy="288.7" r="1.4"/><circle cx="347.8" cy="288.3" r="1.4"/><circle cx="343.9" cy="290.5" r="1.4"/><circle cx="338.1" cy="296.6" r="1.4"/><circle cx="341.9" cy="297.3" r="1.4"/><circle cx="345.9" cy="297.2" r="1.4"/><circle cx="349.5" cy="296.3" r="1.4"/><circle cx="334.3" cy="300.1" r="1.4"/><circle cx="338.1" cy="300.4" r="1.4"/><circle cx="341.9" cy="301.8" r="1.4"/><circle cx="349.5" cy="301.5" r="1.4"/><circle cx="353.4" cy="300.1" r="1.4"/><circle cx="332.2" cy="305.3" r="1.4"/><circle cx="336" cy="306.7" r="1.4"/><circle cx="339.9" cy="306.7" r="1.4"/><circle cx="341.9" cy="304.2" r="1.4"/><circle cx="345.7" cy="303.5" r="1.4"/><circle cx="345.7" cy="305.3" r="1.4"/><circle cx="351.3" cy="306.7" r="1.4"/><circle cx="355.1" cy="306.7" r="1.4"/><circle cx="343.7" cy="307.7" r="1.4"/><circle cx="347.8" cy="307.4" r="1.4"/><circle cx="332.2" cy="310.5" r="1.4"/><circle cx="336" cy="310.5" r="1.4"/><circle cx="339.9" cy="310.5" r="1.4"/><circle cx="343.7" cy="309.4" r="1.4"/><circle cx="347.5" cy="310.5" r="1.4"/><circle cx="351.3" cy="310.5" r="1.4"/><circle cx="355.1" cy="310.1" r="1.4"/><circle cx="332.2" cy="314.6" r="1.4"/><circle cx="336" cy="315.3" r="1.4"/><circle cx="339.9" cy="316" r="1.4"/><circle cx="343.7" cy="312.2" r="1.4"/><circle cx="347.5" cy="314" r="1.4"/><circle cx="351.3" cy="315.3" r="1.4"/><circle cx="355.1" cy="314.6" r="1.4"/><circle cx="332.1" cy="318" r="1.35"/><circle cx="336" cy="318" r="1.35"/><circle cx="339.9" cy="318" r="1.35"/><circle cx="343.8" cy="318" r="1.35"/><circle cx="347.7" cy="318" r="1.35"/><circle cx="351.6" cy="318" r="1.35"/><circle cx="355.5" cy="318" r="1.35"/><circle cx="333.07" cy="319.9" r="1.35"/><circle cx="336.97" cy="319.9" r="1.35"/><circle cx="340.87" cy="319.9" r="1.35"/><circle cx="344.77" cy="319.9" r="1.35"/><circle cx="348.67" cy="319.9" r="1.35"/><circle cx="352.57" cy="319.9" r="1.35"/><circle cx="356.47" cy="319.9" r="1.35"/><circle cx="332.1" cy="321.8" r="1.35"/><circle cx="336" cy="321.8" r="1.35"/><circle cx="339.9" cy="321.8" r="1.35"/><circle cx="343.8" cy="321.8" r="1.35"/><circle cx="347.7" cy="321.8" r="1.35"/><circle cx="351.6" cy="321.8" r="1.35"/><circle cx="355.5" cy="321.8" r="1.35"/><circle cx="331.13" cy="323.7" r="1.35"/><circle cx="335.03" cy="323.7" r="1.35"/><circle cx="338.93" cy="323.7" r="1.35"/><circle cx="342.83" cy="323.7" r="1.35"/><circle cx="346.73" cy="323.7" r="1.35"/><circle cx="350.63" cy="323.7" r="1.35"/><circle cx="354.53" cy="323.7" r="1.35"/><circle cx="330.16" cy="325.6" r="1.35"/><circle cx="334.06" cy="325.6" r="1.35"/><circle cx="337.96" cy="325.6" r="1.35"/><circle cx="341.86" cy="325.6" r="1.35"/><circle cx="345.76" cy="325.6" r="1.35"/><circle cx="349.66" cy="325.6" r="1.35"/><circle cx="353.56" cy="325.6" r="1.35"/><circle cx="357.46" cy="325.6" r="1.35"/><circle cx="332.1" cy="328.5" r="2.0"/><circle cx="336" cy="328.5" r="2.0"/><circle cx="339.9" cy="328.5" r="2.0"/><circle cx="343.8" cy="328.5" r="2.0"/><circle cx="347.7" cy="328.5" r="2.0"/><circle cx="351.6" cy="328.5" r="2.0"/><circle cx="355.5" cy="328.5" r="2.0"/><circle cx="332.1" cy="332.35" r="2.0"/><circle cx="336" cy="332.35" r="2.0"/><circle cx="339.9" cy="332.35" r="2.0"/><circle cx="343.8" cy="332.35" r="2.0"/><circle cx="347.7" cy="332.35" r="2.0"/><circle cx="351.6" cy="332.35" r="2.0"/><circle cx="355.5" cy="332.35" r="2.0"/><circle cx="332.1" cy="336.2" r="2.0"/><circle cx="336" cy="336.2" r="2.0"/><circle cx="339.9" cy="336.2" r="2.0"/><circle cx="343.8" cy="336.2" r="2.0"/><circle cx="347.7" cy="336.2" r="2.0"/><circle cx="351.6" cy="336.2" r="2.0"/><circle cx="355.5" cy="336.2" r="2.0"/><circle cx="336" cy="342.8" r="1.4"/><circle cx="340" cy="342.8" r="1.4"/><circle cx="344" cy="342.8" r="1.4"/><circle cx="348" cy="342.8" r="1.4"/><circle cx="352" cy="342.8" r="1.4"/><circle cx="341.9" cy="345.3" r="1.4"/><circle cx="345.9" cy="345.3" r="1.4"/><circle cx="343.9" cy="348" r="1.4"/></g>
<line x1="327.7" y1="327.3" x2="360" y2="327.3" stroke="#111" stroke-width="2.3"/>
<g fill="#b0112f" stroke="#600818" stroke-width="0.3"><circle cx="387.6" cy="257.6" r="1.4"/><circle cx="391.3" cy="261.5" r="1.4"/><circle cx="395.3" cy="261.5" r="1.4"/><circle cx="385.7" cy="267.2" r="1.4"/><circle cx="397.2" cy="268.9" r="1.4"/><circle cx="389.5" cy="271.1" r="1.4"/><circle cx="393.4" cy="271.4" r="1.4"/><circle cx="393.4" cy="273.4" r="1.4"/><circle cx="389.5" cy="276.3" r="1.4"/><circle cx="383.7" cy="279.8" r="1.4"/><circle cx="387.6" cy="280.4" r="1.4"/><circle cx="391.3" cy="281.5" r="1.4"/><circle cx="395.3" cy="280.4" r="1.4"/><circle cx="399.1" cy="279.3" r="1.4"/><circle cx="389.5" cy="285.6" r="1.4"/><circle cx="393.4" cy="285" r="1.4"/><circle cx="377.7" cy="287" r="1.4"/><circle cx="381.8" cy="288.2" r="1.4"/><circle cx="385.7" cy="289.5" r="1.4"/><circle cx="389.5" cy="289.9" r="1.4"/><circle cx="393.4" cy="290.1" r="1.4"/><circle cx="397.2" cy="289.5" r="1.4"/><circle cx="401" cy="288.2" r="1.4"/><circle cx="404.6" cy="287" r="1.4"/><circle cx="377.7" cy="292.8" r="1.4"/><circle cx="381.8" cy="294.4" r="1.4"/><circle cx="401" cy="292.8" r="1.4"/><circle cx="404.6" cy="292.4" r="1.4"/><circle cx="379.6" cy="295" r="1.3"/><circle cx="383.5" cy="295" r="1.3"/><circle cx="387.4" cy="295" r="1.3"/><circle cx="391.3" cy="295" r="1.3"/><circle cx="399.1" cy="295" r="1.3"/><circle cx="403" cy="295" r="1.3"/><circle cx="379.6" cy="296.75" r="1.3"/><circle cx="383.5" cy="296.75" r="1.3"/><circle cx="391.3" cy="296.75" r="1.3"/><circle cx="395.2" cy="296.75" r="1.3"/><circle cx="399.1" cy="296.75" r="1.3"/><circle cx="403" cy="296.75" r="1.3"/><circle cx="379.6" cy="298.5" r="1.3"/><circle cx="383.5" cy="298.5" r="1.3"/><circle cx="387.4" cy="298.5" r="1.3"/><circle cx="391.3" cy="298.5" r="1.3"/><circle cx="395.2" cy="298.5" r="1.3"/><circle cx="379.6" cy="300.25" r="1.3"/><circle cx="383.5" cy="300.25" r="1.3"/><circle cx="387.4" cy="300.25" r="1.3"/><circle cx="391.3" cy="300.25" r="1.3"/><circle cx="395.2" cy="300.25" r="1.3"/><circle cx="399.1" cy="300.25" r="1.3"/><circle cx="403" cy="300.25" r="1.3"/><circle cx="379.6" cy="302" r="1.3"/><circle cx="383.5" cy="302" r="1.3"/><circle cx="387.4" cy="302" r="1.3"/><circle cx="395.2" cy="302" r="1.3"/><circle cx="399.1" cy="302" r="1.3"/><circle cx="403" cy="302" r="1.3"/><circle cx="379.6" cy="303.75" r="1.3"/><circle cx="383.5" cy="303.75" r="1.3"/><circle cx="391.3" cy="303.75" r="1.3"/><circle cx="395.2" cy="303.75" r="1.3"/><circle cx="399.1" cy="303.75" r="1.3"/><circle cx="403" cy="303.75" r="1.3"/><circle cx="379.6" cy="305.5" r="1.3"/><circle cx="383.5" cy="305.5" r="1.3"/><circle cx="387.4" cy="305.5" r="1.3"/><circle cx="391.3" cy="305.5" r="1.3"/><circle cx="395.2" cy="305.5" r="1.3"/><circle cx="399.1" cy="305.5" r="1.3"/><circle cx="403" cy="305.5" r="1.3"/><circle cx="379.6" cy="308" r="1.35"/><circle cx="383.5" cy="308" r="1.35"/><circle cx="387.4" cy="308" r="1.35"/><circle cx="391.3" cy="308" r="1.35"/><circle cx="395.2" cy="308" r="1.35"/><circle cx="399.1" cy="308" r="1.35"/><circle cx="403" cy="308" r="1.35"/><circle cx="378.63" cy="309.8" r="1.35"/><circle cx="382.53" cy="309.8" r="1.35"/><circle cx="386.43" cy="309.8" r="1.35"/><circle cx="390.33" cy="309.8" r="1.35"/><circle cx="394.23" cy="309.8" r="1.35"/><circle cx="398.13" cy="309.8" r="1.35"/><circle cx="402.03" cy="309.8" r="1.35"/><circle cx="379.6" cy="311.6" r="1.35"/><circle cx="383.5" cy="311.6" r="1.35"/><circle cx="387.4" cy="311.6" r="1.35"/><circle cx="391.3" cy="311.6" r="1.35"/><circle cx="395.2" cy="311.6" r="1.35"/><circle cx="399.1" cy="311.6" r="1.35"/><circle cx="403" cy="311.6" r="1.35"/><circle cx="378.63" cy="313.4" r="1.35"/><circle cx="382.53" cy="313.4" r="1.35"/><circle cx="386.43" cy="313.4" r="1.35"/><circle cx="390.33" cy="313.4" r="1.35"/><circle cx="394.23" cy="313.4" r="1.35"/><circle cx="398.13" cy="313.4" r="1.35"/><circle cx="402.03" cy="313.4" r="1.35"/><circle cx="379.6" cy="315.2" r="1.35"/><circle cx="383.5" cy="315.2" r="1.35"/><circle cx="387.4" cy="315.2" r="1.35"/><circle cx="391.3" cy="315.2" r="1.35"/><circle cx="395.2" cy="315.2" r="1.35"/><circle cx="399.1" cy="315.2" r="1.35"/><circle cx="403" cy="315.2" r="1.35"/><circle cx="379.6" cy="320" r="2.0"/><circle cx="383.5" cy="320" r="2.0"/><circle cx="387.4" cy="320" r="2.0"/><circle cx="391.3" cy="320" r="2.0"/><circle cx="395.2" cy="320" r="2.0"/><circle cx="399.1" cy="320" r="2.0"/><circle cx="403" cy="320" r="2.0"/><circle cx="379.6" cy="323.85" r="2.0"/><circle cx="383.5" cy="323.85" r="2.0"/><circle cx="387.4" cy="323.85" r="2.0"/><circle cx="391.3" cy="323.85" r="2.0"/><circle cx="395.2" cy="323.85" r="2.0"/><circle cx="399.1" cy="323.85" r="2.0"/><circle cx="403" cy="323.85" r="2.0"/><circle cx="379.6" cy="327.7" r="2.0"/><circle cx="383.5" cy="327.7" r="2.0"/><circle cx="387.4" cy="327.7" r="2.0"/><circle cx="391.3" cy="327.7" r="2.0"/><circle cx="395.2" cy="327.7" r="2.0"/><circle cx="399.1" cy="327.7" r="2.0"/><circle cx="403" cy="327.7" r="2.0"/><circle cx="379.6" cy="331.55" r="2.0"/><circle cx="383.5" cy="331.55" r="2.0"/><circle cx="387.4" cy="331.55" r="2.0"/><circle cx="391.3" cy="331.55" r="2.0"/><circle cx="395.2" cy="331.55" r="2.0"/><circle cx="399.1" cy="331.55" r="2.0"/><circle cx="403" cy="331.55" r="2.0"/><circle cx="379.6" cy="335.4" r="2.0"/><circle cx="383.5" cy="335.4" r="2.0"/><circle cx="387.4" cy="335.4" r="2.0"/><circle cx="391.3" cy="335.4" r="2.0"/><circle cx="395.2" cy="335.4" r="2.0"/><circle cx="399.1" cy="335.4" r="2.0"/><circle cx="403" cy="335.4" r="2.0"/><circle cx="379.6" cy="340.6" r="1.4"/><circle cx="383.5" cy="340.6" r="1.4"/><circle cx="387.4" cy="340.6" r="1.4"/><circle cx="391.3" cy="340.6" r="1.4"/><circle cx="395.2" cy="340.6" r="1.4"/><circle cx="399.1" cy="340.6" r="1.4"/><circle cx="403" cy="340.6" r="1.4"/><circle cx="385.45" cy="342.7" r="1.4"/><circle cx="389.35" cy="342.7" r="1.4"/><circle cx="393.25" cy="342.7" r="1.4"/><circle cx="397.15" cy="342.7" r="1.4"/><circle cx="387.6" cy="345.5" r="1.4"/><circle cx="391.3" cy="346.5" r="1.4"/><circle cx="395.3" cy="345.5" r="1.4"/></g>
<line x1="375.4" y1="318.3" x2="407.5" y2="318.3" stroke="#111" stroke-width="2.3"/>
<g fill="#b0112f" stroke="#600818" stroke-width="0.3"><circle cx="440.9" cy="251.7" r="1.4"/><circle cx="437.1" cy="255.3" r="1.4"/><circle cx="439" cy="261.6" r="1.4"/><circle cx="435" cy="265.9" r="1.4"/><circle cx="442.7" cy="265.9" r="1.4"/><circle cx="439" cy="269.9" r="1.4"/><circle cx="433.2" cy="273.3" r="1.4"/><circle cx="437.1" cy="273.8" r="1.4"/><circle cx="440.9" cy="274.9" r="1.4"/><circle cx="444.6" cy="273.3" r="1.4"/><circle cx="433.2" cy="278.9" r="1.4"/><circle cx="437.1" cy="281.2" r="1.4"/><circle cx="441.1" cy="280.3" r="1.4"/><circle cx="444.6" cy="278.4" r="1.4"/><circle cx="431.3" cy="283.3" r="1.4"/><circle cx="435" cy="284.9" r="1.4"/><circle cx="439" cy="285.9" r="1.4"/><circle cx="442.7" cy="283.5" r="1.4"/><circle cx="446.7" cy="283.1" r="1.4"/><circle cx="427.4" cy="289.1" r="1.4"/><circle cx="431.3" cy="289.1" r="1.4"/><circle cx="435" cy="289.6" r="1.4"/><circle cx="439" cy="290" r="1.4"/><circle cx="442.7" cy="289.6" r="1.4"/><circle cx="446.7" cy="289.1" r="1.4"/><circle cx="450.4" cy="288.8" r="1.4"/><circle cx="429.3" cy="291.9" r="1.4"/><circle cx="437.1" cy="287.2" r="1.4"/><circle cx="440.9" cy="288.6" r="1.4"/><circle cx="448.7" cy="291.9" r="1.4"/><circle cx="427" cy="295" r="1.35"/><circle cx="430.9" cy="295" r="1.35"/><circle cx="434.8" cy="295" r="1.35"/><circle cx="438.7" cy="295" r="1.35"/><circle cx="442.6" cy="295" r="1.35"/><circle cx="446.5" cy="295" r="1.35"/><circle cx="450.4" cy="295" r="1.35"/><circle cx="427.97" cy="296.9" r="1.35"/><circle cx="431.87" cy="296.9" r="1.35"/><circle cx="435.77" cy="296.9" r="1.35"/><circle cx="439.67" cy="296.9" r="1.35"/><circle cx="443.57" cy="296.9" r="1.35"/><circle cx="447.47" cy="296.9" r="1.35"/><circle cx="451.37" cy="296.9" r="1.35"/><circle cx="427" cy="298.8" r="1.35"/><circle cx="430.9" cy="298.8" r="1.35"/><circle cx="434.8" cy="298.8" r="1.35"/><circle cx="438.7" cy="298.8" r="1.35"/><circle cx="442.6" cy="298.8" r="1.35"/><circle cx="446.5" cy="298.8" r="1.35"/><circle cx="450.4" cy="298.8" r="1.35"/><circle cx="427.97" cy="300.7" r="1.35"/><circle cx="431.87" cy="300.7" r="1.35"/><circle cx="435.77" cy="300.7" r="1.35"/><circle cx="439.67" cy="300.7" r="1.35"/><circle cx="443.57" cy="300.7" r="1.35"/><circle cx="447.47" cy="300.7" r="1.35"/><circle cx="451.37" cy="300.7" r="1.35"/><circle cx="425.04" cy="302.6" r="1.35"/><circle cx="428.94" cy="302.6" r="1.35"/><circle cx="432.84" cy="302.6" r="1.35"/><circle cx="436.74" cy="302.6" r="1.35"/><circle cx="440.64" cy="302.6" r="1.35"/><circle cx="444.54" cy="302.6" r="1.35"/><circle cx="448.44" cy="302.6" r="1.35"/><circle cx="452.34" cy="302.6" r="1.35"/><circle cx="427.97" cy="304.5" r="1.35"/><circle cx="431.87" cy="304.5" r="1.35"/><circle cx="435.77" cy="304.5" r="1.35"/><circle cx="439.67" cy="304.5" r="1.35"/><circle cx="443.57" cy="304.5" r="1.35"/><circle cx="447.47" cy="304.5" r="1.35"/><circle cx="451.37" cy="304.5" r="1.35"/><circle cx="427" cy="306.4" r="1.35"/><circle cx="430.9" cy="306.4" r="1.35"/><circle cx="434.8" cy="306.4" r="1.35"/><circle cx="438.7" cy="306.4" r="1.35"/><circle cx="442.6" cy="306.4" r="1.35"/><circle cx="446.5" cy="306.4" r="1.35"/><circle cx="450.4" cy="306.4" r="1.35"/><circle cx="426.03" cy="308.3" r="1.35"/><circle cx="429.93" cy="308.3" r="1.35"/><circle cx="433.83" cy="308.3" r="1.35"/><circle cx="437.73" cy="308.3" r="1.35"/><circle cx="441.63" cy="308.3" r="1.35"/><circle cx="445.53" cy="308.3" r="1.35"/><circle cx="449.43" cy="308.3" r="1.35"/><circle cx="425.06" cy="310.2" r="1.35"/><circle cx="428.96" cy="310.2" r="1.35"/><circle cx="432.86" cy="310.2" r="1.35"/><circle cx="436.76" cy="310.2" r="1.35"/><circle cx="440.66" cy="310.2" r="1.35"/><circle cx="444.56" cy="310.2" r="1.35"/><circle cx="448.46" cy="310.2" r="1.35"/><circle cx="452.36" cy="310.2" r="1.35"/><circle cx="427" cy="314.5" r="1.4"/><circle cx="430.9" cy="314.5" r="1.4"/><circle cx="434.8" cy="314.5" r="1.4"/><circle cx="438.7" cy="314.5" r="1.4"/><circle cx="442.6" cy="314.5" r="1.4"/><circle cx="446.5" cy="314.5" r="1.4"/><circle cx="450.4" cy="314.5" r="1.4"/><circle cx="427.97" cy="316.5" r="1.4"/><circle cx="431.87" cy="316.5" r="1.4"/><circle cx="435.77" cy="316.5" r="1.4"/><circle cx="439.67" cy="316.5" r="1.4"/><circle cx="443.57" cy="316.5" r="1.4"/><circle cx="447.47" cy="316.5" r="1.4"/><circle cx="451.37" cy="316.5" r="1.4"/><circle cx="425.04" cy="318.5" r="1.4"/><circle cx="428.94" cy="318.5" r="1.4"/><circle cx="432.84" cy="318.5" r="1.4"/><circle cx="436.74" cy="318.5" r="1.4"/><circle cx="440.64" cy="318.5" r="1.4"/><circle cx="444.54" cy="318.5" r="1.4"/><circle cx="448.44" cy="318.5" r="1.4"/><circle cx="452.34" cy="318.5" r="1.4"/><circle cx="426.01" cy="320.5" r="1.4"/><circle cx="429.91" cy="320.5" r="1.4"/><circle cx="433.81" cy="320.5" r="1.4"/><circle cx="437.71" cy="320.5" r="1.4"/><circle cx="441.61" cy="320.5" r="1.4"/><circle cx="445.51" cy="320.5" r="1.4"/><circle cx="449.41" cy="320.5" r="1.4"/><circle cx="425.04" cy="322.5" r="1.4"/><circle cx="428.94" cy="322.5" r="1.4"/><circle cx="432.84" cy="322.5" r="1.4"/><circle cx="436.74" cy="322.5" r="1.4"/><circle cx="440.64" cy="322.5" r="1.4"/><circle cx="444.54" cy="322.5" r="1.4"/><circle cx="448.44" cy="322.5" r="1.4"/><circle cx="452.34" cy="322.5" r="1.4"/><circle cx="427.97" cy="324.5" r="1.4"/><circle cx="431.87" cy="324.5" r="1.4"/><circle cx="435.77" cy="324.5" r="1.4"/><circle cx="439.67" cy="324.5" r="1.4"/><circle cx="443.57" cy="324.5" r="1.4"/><circle cx="447.47" cy="324.5" r="1.4"/><circle cx="451.37" cy="324.5" r="1.4"/><circle cx="425.04" cy="326.5" r="1.4"/><circle cx="428.94" cy="326.5" r="1.4"/><circle cx="432.84" cy="326.5" r="1.4"/><circle cx="436.74" cy="326.5" r="1.4"/><circle cx="440.64" cy="326.5" r="1.4"/><circle cx="444.54" cy="326.5" r="1.4"/><circle cx="448.44" cy="326.5" r="1.4"/><circle cx="452.34" cy="326.5" r="1.4"/><circle cx="430.76" cy="330.62" r="1.4"/><circle cx="434.8" cy="330.45" r="1.4"/><circle cx="438.89" cy="330.57" r="1.4"/><circle cx="442.52" cy="330.3" r="1.4"/><circle cx="446.48" cy="330.5" r="1.4"/><circle cx="450.25" cy="330.69" r="1.4"/><circle cx="429.14" cy="333.31" r="1.4"/><circle cx="432.79" cy="333.27" r="1.4"/><circle cx="436.66" cy="333.31" r="1.4"/><circle cx="440.5" cy="333.25" r="1.4"/><circle cx="444.37" cy="333.28" r="1.4"/><circle cx="448.33" cy="333.21" r="1.4"/><circle cx="426.82" cy="336.48" r="1.4"/><circle cx="430.96" cy="336.26" r="1.4"/><circle cx="434.87" cy="336.42" r="1.4"/><circle cx="438.68" cy="336.33" r="1.4"/><circle cx="442.41" cy="336.44" r="1.4"/><circle cx="446.44" cy="336.17" r="1.4"/><circle cx="450.49" cy="336.16" r="1.4"/><circle cx="429.07" cy="339.36" r="1.4"/><circle cx="432.78" cy="339.17" r="1.4"/><circle cx="436.6" cy="339.4" r="1.4"/><circle cx="440.65" cy="339.17" r="1.4"/><circle cx="444.73" cy="339.31" r="1.4"/><circle cx="448.25" cy="339.09" r="1.4"/></g>
<line x1="422.8" y1="313.7" x2="455.1" y2="313.7" stroke="#111" stroke-width="2.3"/>
<g fill="#b0112f" stroke="#600818" stroke-width="0.3"><circle cx="484.4" cy="263.5" r="1.4"/><circle cx="488.5" cy="264.6" r="1.4"/><circle cx="480.8" cy="273" r="1.4"/><circle cx="484.7" cy="274.8" r="1.4"/><circle cx="488.5" cy="273.4" r="1.4"/><circle cx="492.1" cy="272.3" r="1.4"/><circle cx="476.8" cy="276.3" r="1.4"/><circle cx="480.8" cy="277.2" r="1.4"/><circle cx="484.7" cy="278.1" r="1.4"/><circle cx="488.5" cy="279.6" r="1.4"/><circle cx="492.1" cy="277.6" r="1.4"/><circle cx="496.1" cy="276.3" r="1.4"/><circle cx="486.6" cy="283.2" r="1.4"/><circle cx="475.3" cy="287.6" r="1.4"/><circle cx="480.1" cy="286.1" r="1.4"/><circle cx="479" cy="288" r="1.4"/><circle cx="483.7" cy="287.6" r="1.4"/><circle cx="484.5" cy="285.5" r="1.4"/><circle cx="488.5" cy="287.2" r="1.4"/><circle cx="492.1" cy="286.1" r="1.4"/><circle cx="493.6" cy="287.6" r="1.4"/><circle cx="498" cy="287.6" r="1.4"/><circle cx="482.6" cy="289.4" r="1.4"/><circle cx="486.6" cy="289.4" r="1.4"/><circle cx="489.9" cy="288.7" r="1.4"/><circle cx="472.8" cy="290.9" r="1.4"/><circle cx="499.8" cy="290.9" r="1.4"/><circle cx="496.1" cy="291.6" r="1.4"/><circle cx="474.4" cy="293" r="1.3"/><circle cx="478.3" cy="293" r="1.3"/><circle cx="482.2" cy="293" r="1.3"/><circle cx="486.1" cy="293" r="1.3"/><circle cx="490" cy="293" r="1.3"/><circle cx="497.8" cy="293" r="1.3"/><circle cx="474.4" cy="294.75" r="1.3"/><circle cx="478.3" cy="294.75" r="1.3"/><circle cx="482.2" cy="294.75" r="1.3"/><circle cx="486.1" cy="294.75" r="1.3"/><circle cx="490" cy="294.75" r="1.3"/><circle cx="493.9" cy="294.75" r="1.3"/><circle cx="474.4" cy="296.5" r="1.3"/><circle cx="478.3" cy="296.5" r="1.3"/><circle cx="482.2" cy="296.5" r="1.3"/><circle cx="486.1" cy="296.5" r="1.3"/><circle cx="490" cy="296.5" r="1.3"/><circle cx="493.9" cy="296.5" r="1.3"/><circle cx="474.4" cy="298.25" r="1.3"/><circle cx="478.3" cy="298.25" r="1.3"/><circle cx="482.2" cy="298.25" r="1.3"/><circle cx="486.1" cy="298.25" r="1.3"/><circle cx="490" cy="298.25" r="1.3"/><circle cx="493.9" cy="298.25" r="1.3"/><circle cx="497.8" cy="298.25" r="1.3"/><circle cx="474.4" cy="300" r="1.3"/><circle cx="478.3" cy="300" r="1.3"/><circle cx="482.2" cy="300" r="1.3"/><circle cx="486.1" cy="300" r="1.3"/><circle cx="490" cy="300" r="1.3"/><circle cx="493.9" cy="300" r="1.3"/><circle cx="497.8" cy="300" r="1.3"/><circle cx="474.4" cy="302" r="1.35"/><circle cx="478.3" cy="302" r="1.35"/><circle cx="482.2" cy="302" r="1.35"/><circle cx="486.1" cy="302" r="1.35"/><circle cx="490" cy="302" r="1.35"/><circle cx="493.9" cy="302" r="1.35"/><circle cx="497.8" cy="302" r="1.35"/><circle cx="475.37" cy="303.9" r="1.35"/><circle cx="479.27" cy="303.9" r="1.35"/><circle cx="483.17" cy="303.9" r="1.35"/><circle cx="487.07" cy="303.9" r="1.35"/><circle cx="490.97" cy="303.9" r="1.35"/><circle cx="494.87" cy="303.9" r="1.35"/><circle cx="498.77" cy="303.9" r="1.35"/><circle cx="472.44" cy="305.8" r="1.35"/><circle cx="476.34" cy="305.8" r="1.35"/><circle cx="480.24" cy="305.8" r="1.35"/><circle cx="484.14" cy="305.8" r="1.35"/><circle cx="488.04" cy="305.8" r="1.35"/><circle cx="491.94" cy="305.8" r="1.35"/><circle cx="495.84" cy="305.8" r="1.35"/><circle cx="499.74" cy="305.8" r="1.35"/><circle cx="473.41" cy="307.7" r="1.35"/><circle cx="477.31" cy="307.7" r="1.35"/><circle cx="481.21" cy="307.7" r="1.35"/><circle cx="485.11" cy="307.7" r="1.35"/><circle cx="489.01" cy="307.7" r="1.35"/><circle cx="492.91" cy="307.7" r="1.35"/><circle cx="496.81" cy="307.7" r="1.35"/><circle cx="474.38" cy="309.6" r="1.35"/><circle cx="478.28" cy="309.6" r="1.35"/><circle cx="482.18" cy="309.6" r="1.35"/><circle cx="486.08" cy="309.6" r="1.35"/><circle cx="489.98" cy="309.6" r="1.35"/><circle cx="493.88" cy="309.6" r="1.35"/><circle cx="497.78" cy="309.6" r="1.35"/><circle cx="475.35" cy="311.5" r="1.35"/><circle cx="479.25" cy="311.5" r="1.35"/><circle cx="483.15" cy="311.5" r="1.35"/><circle cx="487.05" cy="311.5" r="1.35"/><circle cx="490.95" cy="311.5" r="1.35"/><circle cx="494.85" cy="311.5" r="1.35"/><circle cx="498.75" cy="311.5" r="1.35"/><circle cx="474.4" cy="314" r="1.45"/><circle cx="478.3" cy="314" r="1.45"/><circle cx="482.2" cy="314" r="1.45"/><circle cx="486.1" cy="314" r="1.45"/><circle cx="490" cy="314" r="1.45"/><circle cx="493.9" cy="314" r="1.45"/><circle cx="497.8" cy="314" r="1.45"/><circle cx="472.45" cy="316" r="1.45"/><circle cx="476.35" cy="316" r="1.45"/><circle cx="480.25" cy="316" r="1.45"/><circle cx="484.15" cy="316" r="1.45"/><circle cx="488.05" cy="316" r="1.45"/><circle cx="491.95" cy="316" r="1.45"/><circle cx="495.85" cy="316" r="1.45"/><circle cx="499.75" cy="316" r="1.45"/><circle cx="474.4" cy="318" r="1.45"/><circle cx="478.3" cy="318" r="1.45"/><circle cx="482.2" cy="318" r="1.45"/><circle cx="486.1" cy="318" r="1.45"/><circle cx="490" cy="318" r="1.45"/><circle cx="493.9" cy="318" r="1.45"/><circle cx="497.8" cy="318" r="1.45"/><circle cx="472.45" cy="320" r="1.45"/><circle cx="476.35" cy="320" r="1.45"/><circle cx="480.25" cy="320" r="1.45"/><circle cx="484.15" cy="320" r="1.45"/><circle cx="488.05" cy="320" r="1.45"/><circle cx="491.95" cy="320" r="1.45"/><circle cx="495.85" cy="320" r="1.45"/><circle cx="499.75" cy="320" r="1.45"/><circle cx="474.4" cy="322" r="1.45"/><circle cx="478.3" cy="322" r="1.45"/><circle cx="482.2" cy="322" r="1.45"/><circle cx="486.1" cy="322" r="1.45"/><circle cx="490" cy="322" r="1.45"/><circle cx="493.9" cy="322" r="1.45"/><circle cx="497.8" cy="322" r="1.45"/><circle cx="472.45" cy="324" r="1.45"/><circle cx="476.35" cy="324" r="1.45"/><circle cx="480.25" cy="324" r="1.45"/><circle cx="484.15" cy="324" r="1.45"/><circle cx="488.05" cy="324" r="1.45"/><circle cx="491.95" cy="324" r="1.45"/><circle cx="495.85" cy="324" r="1.45"/><circle cx="499.75" cy="324" r="1.45"/><circle cx="474.4" cy="326" r="1.45"/><circle cx="478.3" cy="326" r="1.45"/><circle cx="482.2" cy="326" r="1.45"/><circle cx="486.1" cy="326" r="1.45"/><circle cx="490" cy="326" r="1.45"/><circle cx="493.9" cy="326" r="1.45"/><circle cx="497.8" cy="326" r="1.45"/><circle cx="472.9" cy="328.8" r="1.4"/><circle cx="476.8" cy="328.8" r="1.4"/><circle cx="480.6" cy="329.2" r="1.4"/><circle cx="484.5" cy="331.1" r="1.4"/><circle cx="488.3" cy="331.1" r="1.4"/><circle cx="492.2" cy="329.9" r="1.4"/><circle cx="496" cy="328.8" r="1.4"/><circle cx="499.8" cy="328.8" r="1.4"/><circle cx="472.9" cy="330.5" r="1.4"/><circle cx="476.8" cy="330.5" r="1.4"/><circle cx="480.6" cy="331" r="1.4"/><circle cx="484.5" cy="332.5" r="1.4"/><circle cx="488.3" cy="332.5" r="1.4"/><circle cx="492.2" cy="331.5" r="1.4"/><circle cx="496" cy="330.5" r="1.4"/><circle cx="499.8" cy="330.5" r="1.4"/><circle cx="474.8" cy="333.8" r="1.4"/><circle cx="478.7" cy="333.8" r="1.4"/><circle cx="482.5" cy="335.3" r="1.4"/><circle cx="486.4" cy="336.1" r="1.4"/><circle cx="490.2" cy="336.1" r="1.4"/><circle cx="494.1" cy="334.5" r="1.4"/><circle cx="497.9" cy="333.8" r="1.4"/><circle cx="474.8" cy="338.4" r="1.4"/><circle cx="478.7" cy="338.4" r="1.4"/><circle cx="482.5" cy="340.3" r="1.4"/><circle cx="486.4" cy="340.7" r="1.4"/><circle cx="490.2" cy="340.3" r="1.4"/><circle cx="494.1" cy="338.4" r="1.4"/><circle cx="497.9" cy="336.8" r="1.4"/><circle cx="482.5" cy="342.2" r="1.4"/><circle cx="490.2" cy="343" r="1.4"/><circle cx="486.4" cy="345.7" r="1.4"/></g>
<line x1="470" y1="312.6" x2="502.4" y2="312.6" stroke="#111" stroke-width="2.3"/>
<path d="M344.2 218.8V214.65H486.5V218.8" fill="none" stroke="#1a1a1a" stroke-width="1.35"/>
<circle cx="411.05" cy="209.2" r="1.35" fill="#111"/>
<circle cx="414.95" cy="209.2" r="1.35" fill="#111"/>
<circle cx="418.85" cy="209.2" r="1.35" fill="#111"/>
<path d="M344.2 228V223.85H439.1V228" fill="none" stroke="#1a1a1a" stroke-width="1.35"/>
<circle cx="387.35" cy="218.4" r="1.35" fill="#111"/>
<circle cx="391.25" cy="218.4" r="1.35" fill="#111"/>
<circle cx="395.15" cy="218.4" r="1.35" fill="#111"/>
<path d="M344.2 237.5V233.35H391.7V237.5" fill="none" stroke="#1a1a1a" stroke-width="1.35"/>
<circle cx="363.65" cy="230.3" r="1.35" fill="#111"/>
<circle cx="367.55" cy="230.3" r="1.35" fill="#111"/>
<circle cx="371.45" cy="230.3" r="1.35" fill="#111"/>
<path d="M391.7 237.5V233.35H486.5V237.5" fill="none" stroke="#1a1a1a" stroke-width="1.35"/>
<circle cx="434.8" cy="230.3" r="1.35" fill="#111"/>
<circle cx="438.7" cy="230.3" r="1.35" fill="#111"/>
<circle cx="442.6" cy="230.3" r="1.35" fill="#111"/>
<path d="M391.7 247V242.85H439.1V247" fill="none" stroke="#1a1a1a" stroke-width="1.35"/>
<circle cx="411.1" cy="237.4" r="1.35" fill="#111"/>
<circle cx="415" cy="237.4" r="1.35" fill="#111"/>
<circle cx="418.9" cy="237.4" r="1.35" fill="#111"/>
<text x="7.5" y="404.7" font-size="11.2" font-weight="bold" fill="#111" stroke="#111" stroke-width="0.3">E</text>
<line x1="58.5" y1="414.3" x2="58.5" y2="547.1" stroke="#111" stroke-width="1.5"/>
<line x1="57.75" y1="546.55" x2="251.7" y2="546.55" stroke="#111" stroke-width="1.75"/>
<line x1="54.9" y1="546.4" x2="58.5" y2="546.4" stroke="#111" stroke-width="1.2"/>
<text x="51.5" y="549.7" text-anchor="end" font-size="8.2" fill="#2e2e2e" stroke="#2e2e2e" stroke-width="0.25">0</text>
<line x1="54.9" y1="520.74" x2="58.5" y2="520.74" stroke="#111" stroke-width="1.2"/>
<text x="51.5" y="524.04" text-anchor="end" font-size="8.2" fill="#2e2e2e" stroke="#2e2e2e" stroke-width="0.25">5000</text>
<line x1="54.9" y1="495.08" x2="58.5" y2="495.08" stroke="#111" stroke-width="1.2"/>
<text x="51.5" y="498.38" text-anchor="end" font-size="8.2" fill="#2e2e2e" stroke="#2e2e2e" stroke-width="0.25">10,000</text>
<line x1="54.9" y1="469.42" x2="58.5" y2="469.42" stroke="#111" stroke-width="1.2"/>
<text x="51.5" y="472.72" text-anchor="end" font-size="8.2" fill="#2e2e2e" stroke="#2e2e2e" stroke-width="0.25">15,000</text>
<line x1="54.9" y1="443.76" x2="58.5" y2="443.76" stroke="#111" stroke-width="1.2"/>
<text x="51.5" y="447.06" text-anchor="end" font-size="8.2" fill="#2e2e2e" stroke="#2e2e2e" stroke-width="0.25">20,000</text>
<line x1="54.9" y1="418.1" x2="58.5" y2="418.1" stroke="#111" stroke-width="1.2"/>
<text x="51.5" y="421.4" text-anchor="end" font-size="8.2" fill="#2e2e2e" stroke="#2e2e2e" stroke-width="0.25">25,000</text>
<line x1="82.2" y1="546.4" x2="82.2" y2="549.9" stroke="#111" stroke-width="1.2"/>
<line x1="130" y1="546.4" x2="130" y2="549.9" stroke="#111" stroke-width="1.2"/>
<line x1="177.4" y1="546.4" x2="177.4" y2="549.9" stroke="#111" stroke-width="1.2"/>
<line x1="225.3" y1="546.4" x2="225.3" y2="549.9" stroke="#111" stroke-width="1.2"/>
<text transform="translate(16.2,480.05) rotate(-90)" text-anchor="middle" font-size="9.5" textLength="64" lengthAdjust="spacingAndGlyphs" fill="#2e2e2e" stroke="#2e2e2e" stroke-width="0.25">sCD40L (pg/mL)</text>
<text x="82.2" y="561.5" text-anchor="middle" font-size="8.2" fill="#2e2e2e" stroke="#2e2e2e" stroke-width="0.25">1-2</text>
<text x="130" y="561.5" text-anchor="middle" font-size="8.2" fill="#2e2e2e" stroke="#2e2e2e" stroke-width="0.25">2-3</text>
<text x="177.4" y="561.5" text-anchor="middle" font-size="8.2" fill="#2e2e2e" stroke="#2e2e2e" stroke-width="0.25">3-4</text>
<text x="225.3" y="561.5" text-anchor="middle" font-size="8.2" fill="#2e2e2e" stroke="#2e2e2e" stroke-width="0.25">4-5</text>
<text x="155" y="572.3" text-anchor="middle" font-size="9.8" textLength="18.4" lengthAdjust="spacingAndGlyphs" fill="#2e2e2e" stroke="#2e2e2e" stroke-width="0.25">Days</text>
<path fill="#2b3a74" d="M80.3 460.4L82.2 457.15L84.1 460.4ZM78.7 514.5L80.6 511.25L82.5 514.5ZM82.6 514.5L84.5 511.25L86.4 514.5ZM78.7 527.7L80.6 524.45L82.5 527.7ZM82.6 527L84.5 523.75L86.4 527ZM80.3 508.5L82.2 505.25L84.1 508.5Z"/>
<path fill="#2b3a74" d="M128.1 474.4L130 471.15L131.9 474.4ZM128.1 482.2L130 478.95L131.9 482.2ZM128.1 492.9L130 489.65L131.9 492.9ZM126.1 497.8L128 494.55L129.9 497.8ZM130.1 501.7L132 498.45L133.9 501.7ZM128.1 508L130 504.75L131.9 508ZM128.1 512L130 508.75L131.9 512ZM124.3 519.3L126.2 516.05L128.1 519.3ZM128.1 522.1L130 518.85L131.9 522.1ZM132.1 522.1L134 518.85L135.9 522.1ZM124.3 528.3L126.2 525.05L128.1 528.3ZM128.1 528.3L130 525.05L131.9 528.3ZM132.1 528.3L134 525.05L135.9 528.3ZM128.1 534.5L130 531.25L131.9 534.5Z"/>
<path fill="#2b3a74" d="M175.5 483.5L177.4 480.25L179.3 483.5ZM171.5 488.5L173.4 485.25L175.3 488.5ZM175.8 489.5L177.7 486.25L179.6 489.5ZM179.4 487.1L181.3 483.85L183.2 487.1ZM173.7 494.2L175.6 490.95L177.5 494.2ZM177.3 493.3L179.2 490.05L181.1 493.3ZM171.5 499.3L173.4 496.05L175.3 499.3ZM175.5 499.9L177.4 496.65L179.3 499.9ZM179.4 497.5L181.3 494.25L183.2 497.5ZM175.5 505.9L177.4 502.65L179.3 505.9ZM171.9 508.9L173.8 505.65L175.7 508.9ZM179.7 508.9L181.6 505.65L183.5 508.9ZM175.5 512.5L177.4 509.25L179.3 512.5ZM175.5 516.7L177.4 513.45L179.3 516.7ZM173.4 521.5L175.3 518.25L177.2 521.5ZM177.5 521.8L179.4 518.55L181.3 521.8ZM171.5 525.7L173.4 522.45L175.3 525.7ZM175.5 528.7L177.4 525.45L179.3 528.7ZM179.4 528.3L181.3 525.05L183.2 528.3ZM173.7 531.1L175.6 527.85L177.5 531.1ZM177.5 533.8L179.4 530.55L181.3 533.8ZM177.5 535.9L179.4 532.65L181.3 535.9ZM173.7 539.5L175.6 536.25L177.5 539.5Z"/>
<path fill="#2b3a74" d="M223.2 458.8L225.1 455.55L227 458.8ZM221.1 477.2L223 473.95L224.9 477.2ZM225.6 480L227.5 476.75L229.4 480ZM223.2 484.1L225.1 480.85L227 484.1ZM219.5 489.3L221.4 486.05L223.3 489.3ZM223.2 491.4L225.1 488.15L227 491.4ZM226.9 489L228.8 485.75L230.7 489ZM221.1 499.1L223 495.85L224.9 499.1ZM225.6 496.8L227.5 493.55L229.4 496.8ZM222.4 504.9L224.3 501.65L226.2 504.9ZM218.3 506.9L220.2 503.65L222.1 506.9ZM227.3 506.9L229.2 503.65L231.1 506.9ZM222.4 509.3L224.3 506.05L226.2 509.3ZM225.3 513.7L227.2 510.45L229.1 513.7ZM221.6 517L223.5 513.75L225.4 517ZM219.5 520.7L221.4 517.45L223.3 520.7ZM223.2 521.9L225.1 518.65L227 521.9ZM226.9 521.2L228.8 517.95L230.7 521.2ZM219.5 526.7L221.4 523.45L223.3 526.7ZM223.2 526.1L225.1 522.85L227 526.1ZM226.9 526.4L228.8 523.15L230.7 526.4ZM223.2 530.5L225.1 527.25L227 530.5ZM219.5 533.7L221.4 530.45L223.3 533.7ZM223.2 536.5L225.1 533.25L227 536.5ZM226.9 536.5L228.8 533.25L230.7 536.5Z"/>
<g stroke="#111" stroke-width="1.4" fill="none"><line x1="66" y1="507.2" x2="98.4" y2="507.2" stroke-width="1.6"/><line x1="73.6" y1="496.8" x2="90.8" y2="496.8"/><line x1="73.6" y1="517.6" x2="90.8" y2="517.6"/><line x1="82.2" y1="496.8" x2="82.2" y2="517.6"/></g>
<g stroke="#111" stroke-width="1.4" fill="none"><line x1="113.9" y1="509.5" x2="146.1" y2="509.5" stroke-width="1.6"/><line x1="121.4" y1="504.4" x2="138.6" y2="504.4"/><line x1="121.4" y1="513.8" x2="138.6" y2="513.8"/><line x1="130" y1="504.4" x2="130" y2="513.8"/></g>
<g stroke="#111" stroke-width="1.4" fill="none"><line x1="161.2" y1="509.8" x2="193.6" y2="509.8" stroke-width="1.6"/><line x1="169.3" y1="506.8" x2="185.5" y2="506.8"/><line x1="169.3" y1="512.8" x2="185.5" y2="512.8"/><line x1="177.4" y1="506.8" x2="177.4" y2="512.8"/></g>
<g stroke="#111" stroke-width="1.4" fill="none"><line x1="209.1" y1="506.7" x2="241.5" y2="506.7" stroke-width="1.6"/><line x1="217.1" y1="503.4" x2="233.5" y2="503.4"/><line x1="217.1" y1="510.6" x2="233.5" y2="510.6"/><line x1="225.3" y1="503.4" x2="225.3" y2="510.6"/></g>
<text x="268.5" y="404.7" font-size="11.2" font-weight="bold" fill="#111" stroke="#111" stroke-width="0.3">F</text>
<line x1="320" y1="414.7" x2="320" y2="546.9" stroke="#111" stroke-width="1.5"/>
<line x1="319.25" y1="546.35" x2="512" y2="546.35" stroke="#111" stroke-width="1.75"/>
<line x1="316.4" y1="546.2" x2="320" y2="546.2" stroke="#111" stroke-width="1.2"/>
<text x="313" y="549.5" text-anchor="end" font-size="8.2" fill="#2e2e2e" stroke="#2e2e2e" stroke-width="0.25">0</text>
<line x1="316.4" y1="520.66" x2="320" y2="520.66" stroke="#111" stroke-width="1.2"/>
<text x="313" y="523.96" text-anchor="end" font-size="8.2" fill="#2e2e2e" stroke="#2e2e2e" stroke-width="0.25">5000</text>
<line x1="316.4" y1="495.12" x2="320" y2="495.12" stroke="#111" stroke-width="1.2"/>
<text x="313" y="498.42" text-anchor="end" font-size="8.2" fill="#2e2e2e" stroke="#2e2e2e" stroke-width="0.25">10,000</text>
<line x1="316.4" y1="469.58" x2="320" y2="469.58" stroke="#111" stroke-width="1.2"/>
<text x="313" y="472.88" text-anchor="end" font-size="8.2" fill="#2e2e2e" stroke="#2e2e2e" stroke-width="0.25">15,000</text>
<line x1="316.4" y1="444.04" x2="320" y2="444.04" stroke="#111" stroke-width="1.2"/>
<text x="313" y="447.34" text-anchor="end" font-size="8.2" fill="#2e2e2e" stroke="#2e2e2e" stroke-width="0.25">20,000</text>
<line x1="316.4" y1="418.5" x2="320" y2="418.5" stroke="#111" stroke-width="1.2"/>
<text x="313" y="421.8" text-anchor="end" font-size="8.2" fill="#2e2e2e" stroke="#2e2e2e" stroke-width="0.25">25,000</text>
<line x1="344" y1="546.2" x2="344" y2="549.7" stroke="#111" stroke-width="1.2"/>
<line x1="391.2" y1="546.2" x2="391.2" y2="549.7" stroke="#111" stroke-width="1.2"/>
<line x1="438.7" y1="546.2" x2="438.7" y2="549.7" stroke="#111" stroke-width="1.2"/>
<line x1="486.2" y1="546.2" x2="486.2" y2="549.7" stroke="#111" stroke-width="1.2"/>
<text transform="translate(275.4,480.15) rotate(-90)" text-anchor="middle" font-size="9.5" textLength="64" lengthAdjust="spacingAndGlyphs" fill="#2e2e2e" stroke="#2e2e2e" stroke-width="0.25">sCD40L (pg/mL)</text>
<text x="344" y="561.5" text-anchor="middle" font-size="8.2" fill="#2e2e2e" stroke="#2e2e2e" stroke-width="0.25">1-2</text>
<text x="391.2" y="561.5" text-anchor="middle" font-size="8.2" fill="#2e2e2e" stroke="#2e2e2e" stroke-width="0.25">2-3</text>
<text x="438.7" y="561.5" text-anchor="middle" font-size="8.2" fill="#2e2e2e" stroke="#2e2e2e" stroke-width="0.25">3-4</text>
<text x="486.2" y="561.5" text-anchor="middle" font-size="8.2" fill="#2e2e2e" stroke="#2e2e2e" stroke-width="0.25">4-5</text>
<text x="416.5" y="572.3" text-anchor="middle" font-size="9.8" textLength="18.4" lengthAdjust="spacingAndGlyphs" fill="#2e2e2e" stroke="#2e2e2e" stroke-width="0.25">Days</text>
<path fill="#2b3a74" d="M342 494.4L343.9 491.15L345.8 494.4ZM336.1 509.3L338 506.05L339.9 509.3ZM340 511.1L341.9 507.85L343.8 511.1ZM343.9 511.6L345.8 508.35L347.7 511.6ZM347.6 510.5L349.5 507.25L351.4 510.5ZM338.1 515L340 511.75L341.9 515ZM342.1 516L344 512.75L345.9 516ZM346.1 515L348 511.75L349.9 515ZM342 518.5L343.9 515.25L345.8 518.5ZM338 527.1L339.9 523.85L341.8 527.1ZM345.5 525.5L347.4 522.25L349.3 525.5ZM342 529.4L343.9 526.15L345.8 529.4ZM342 534.7L343.9 531.45L345.8 534.7Z"/>
<path fill="#2b3a74" d="M389.3 499.5L391.2 496.25L393.1 499.5ZM379.6 502.8L381.5 499.55L383.4 502.8ZM383.6 505.2L385.5 501.95L387.4 505.2ZM387.3 505.2L389.2 501.95L391.1 505.2ZM391.3 506.1L393.2 502.85L395.1 506.1ZM395 505L396.9 501.75L398.8 505ZM399 504.7L400.9 501.45L402.8 504.7ZM383.1 508.5L385 505.25L386.9 508.5ZM387.1 509L389 505.75L390.9 509ZM391.1 509L393 505.75L394.9 509ZM395.1 508.5L397 505.25L398.9 508.5ZM381.8 512.7L383.7 509.45L385.6 512.7ZM385.5 513.4L387.4 510.15L389.3 513.4ZM393.1 514.2L395 510.95L396.9 514.2ZM397.1 513.3L399 510.05L400.9 513.3ZM389.3 516.7L391.2 513.45L393.1 516.7Z"/>
<path fill="#2b3a74" d="M439.1 494.2L441 490.95L442.9 494.2ZM435.1 496.3L437 493.05L438.9 496.3ZM431.2 499.1L433.1 495.85L435 499.1ZM435.1 499.5L437 496.25L438.9 499.5ZM439.1 500L441 496.75L442.9 500ZM442.8 499.1L444.7 495.85L446.6 499.1ZM431.2 503.7L433.1 500.45L435 503.7ZM435.1 504.6L437 501.35L438.9 504.6ZM439.1 504.2L441 500.95L442.9 504.2ZM442.8 502.8L444.7 499.55L446.6 502.8ZM433.1 509L435 505.75L436.9 509ZM437.1 509.5L439 506.25L440.9 509.5ZM441.1 509L443 505.75L444.9 509ZM431.2 514.4L433.1 511.15L435 514.4ZM435.1 515.3L437 512.05L438.9 515.3ZM439.1 514.8L441 511.55L442.9 514.8ZM442.8 513.4L444.7 510.15L446.6 513.4ZM433.1 519L435 515.75L436.9 519ZM440.9 518.1L442.8 514.85L444.7 518.1ZM437 520.4L438.9 517.15L440.8 520.4ZM434.9 536.6L436.8 533.35L438.7 536.6ZM439.1 533.8L441 530.55L442.9 533.8Z"/>
<path fill="#2b3a74" d="M484.7 484.7L486.6 481.45L488.5 484.7ZM475 495.1L476.9 491.85L478.8 495.1ZM478.7 496L480.6 492.75L482.5 496ZM482.6 496.9L484.5 493.65L486.4 496.9ZM486.3 498.3L488.2 495.05L490.1 498.3ZM486.3 499.9L488.2 496.65L490.1 499.9ZM490.2 496.9L492.1 493.65L494 496.9ZM493.9 496L495.8 492.75L497.7 496ZM480.8 504L482.7 500.75L484.6 504ZM484.7 504.5L486.6 501.25L488.5 504.5ZM488.4 504L490.3 500.75L492.2 504ZM480.8 509L482.7 505.75L484.6 509ZM484.7 509.9L486.6 506.65L488.5 509.9ZM488.4 508.5L490.3 505.25L492.2 508.5ZM480.8 512.7L482.7 509.45L484.6 512.7ZM484.7 515L486.6 511.75L488.5 515ZM488.4 514.1L490.3 510.85L492.2 514.1ZM484.7 520.3L486.6 517.05L488.5 520.3ZM482.6 524.7L484.5 521.45L486.4 524.7ZM486.3 523.3L488.2 520.05L490.1 523.3Z"/>
<g stroke="#111" stroke-width="1.4" fill="none"><line x1="327.8" y1="515.2" x2="360.2" y2="515.2" stroke-width="1.6"/><line x1="335.4" y1="512.4" x2="352.6" y2="512.4"/><line x1="335.4" y1="518.2" x2="352.6" y2="518.2"/><line x1="344" y1="512.4" x2="344" y2="518.2"/></g>
<g stroke="#111" stroke-width="1.4" fill="none"><line x1="374.8" y1="507" x2="407.6" y2="507" stroke-width="1.6"/><line x1="383.2" y1="505.7" x2="399.2" y2="505.7"/><line x1="383.2" y1="508.4" x2="399.2" y2="508.4"/><line x1="391.2" y1="505.7" x2="391.2" y2="508.4"/></g>
<g stroke="#111" stroke-width="1.4" fill="none"><line x1="422.4" y1="508.2" x2="455" y2="508.2" stroke-width="1.6"/><line x1="430.1" y1="505.6" x2="447.3" y2="505.6"/><line x1="430.1" y1="510.8" x2="447.3" y2="510.8"/><line x1="438.7" y1="505.6" x2="438.7" y2="510.8"/></g>
<g stroke="#111" stroke-width="1.4" fill="none"><line x1="470.2" y1="504" x2="502.6" y2="504" stroke-width="1.6"/><line x1="478.1" y1="501.7" x2="494.7" y2="501.7"/><line x1="478.1" y1="506.1" x2="494.7" y2="506.1"/><line x1="486.4" y1="501.7" x2="486.4" y2="506.1"/></g>
<path d="M344.4 474.1V470.15H486.9V474.1" fill="none" stroke="#1a1a1a" stroke-width="1.35"/>
<circle cx="415.25" cy="464.7" r="1.1" fill="#111"/></svg></body></html>
